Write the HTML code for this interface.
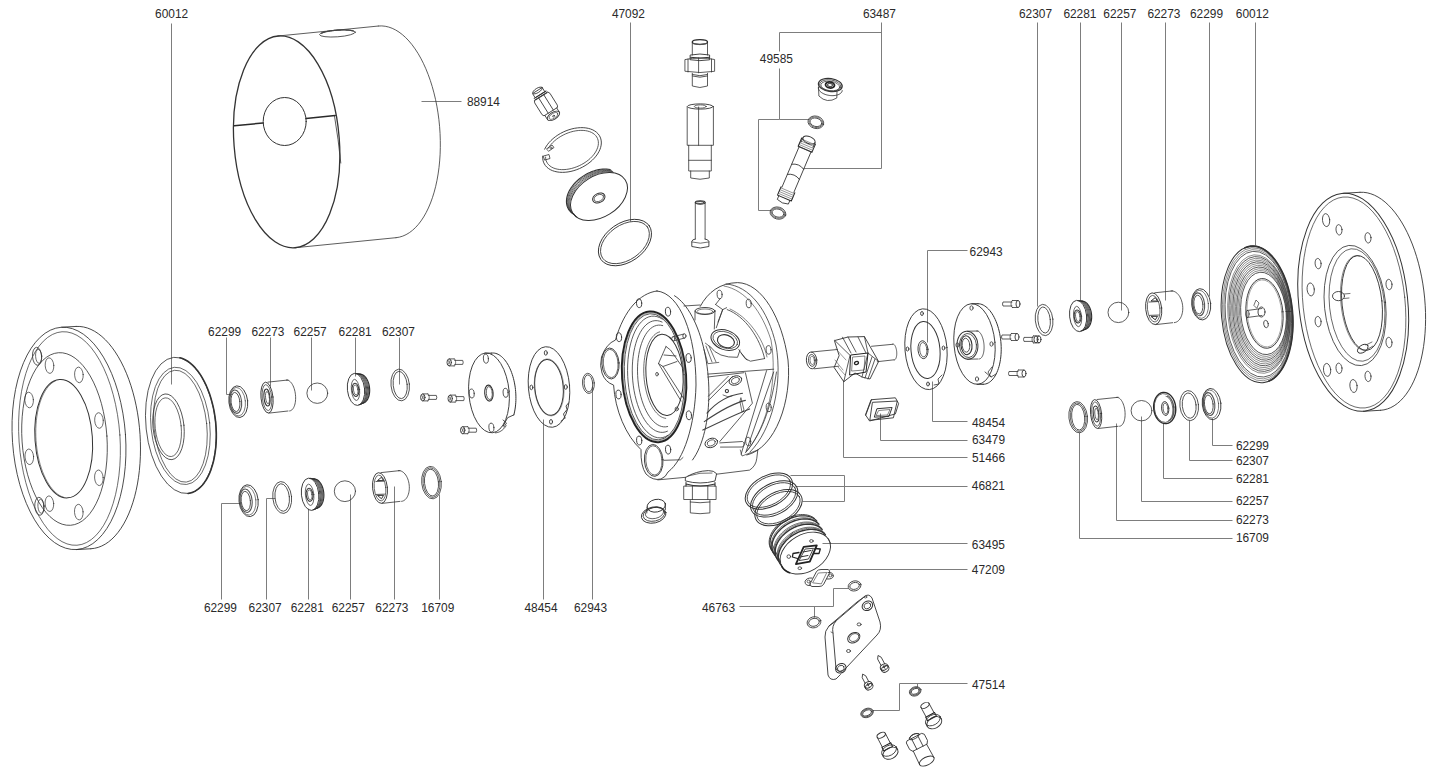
<!DOCTYPE html>
<html><head><meta charset="utf-8"><style>
html,body{margin:0;padding:0;background:#fff;width:1437px;height:776px;overflow:hidden}
svg{display:block}
text{font-family:"Liberation Sans",sans-serif}
</style></head><body>
<svg width="1437" height="776" viewBox="0 0 1437 776" stroke-linecap="round" stroke-linejoin="round">
<rect width="1437" height="776" fill="#fff"/>
<text x="155.1" y="18.3" font-size="11.9" fill="#2a2a2a">60012</text>
<text x="611.9" y="18.1" font-size="11.9" fill="#2a2a2a">47092</text>
<text x="862.9" y="18.1" font-size="11.9" fill="#2a2a2a">63487</text>
<text x="1019" y="17.8" font-size="11.9" fill="#2a2a2a">62307</text>
<text x="1063.4" y="17.8" font-size="11.9" fill="#2a2a2a">62281</text>
<text x="1103.3" y="17.8" font-size="11.9" fill="#2a2a2a">62257</text>
<text x="1147.4" y="17.8" font-size="11.9" fill="#2a2a2a">62273</text>
<text x="1190" y="17.8" font-size="11.9" fill="#2a2a2a">62299</text>
<text x="1235.8" y="17.8" font-size="11.9" fill="#2a2a2a">60012</text>
<text x="759.8" y="63.4" font-size="11.9" fill="#2a2a2a">49585</text>
<text x="466.9" y="105.9" font-size="11.9" fill="#2a2a2a">88914</text>
<text x="208.1" y="335.9" font-size="11.9" fill="#2a2a2a">62299</text>
<text x="251.4" y="335.9" font-size="11.9" fill="#2a2a2a">62273</text>
<text x="293.6" y="335.9" font-size="11.9" fill="#2a2a2a">62257</text>
<text x="338.6" y="335.9" font-size="11.9" fill="#2a2a2a">62281</text>
<text x="381.9" y="335.9" font-size="11.9" fill="#2a2a2a">62307</text>
<text x="203.9" y="611.9" font-size="11.9" fill="#2a2a2a">62299</text>
<text x="248.6" y="611.9" font-size="11.9" fill="#2a2a2a">62307</text>
<text x="290.7" y="611.9" font-size="11.9" fill="#2a2a2a">62281</text>
<text x="331.7" y="611.9" font-size="11.9" fill="#2a2a2a">62257</text>
<text x="375.3" y="611.9" font-size="11.9" fill="#2a2a2a">62273</text>
<text x="421.2" y="611.9" font-size="11.9" fill="#2a2a2a">16709</text>
<text x="524.5" y="611.9" font-size="11.9" fill="#2a2a2a">48454</text>
<text x="574" y="611.9" font-size="11.9" fill="#2a2a2a">62943</text>
<text x="702" y="612.2" font-size="11.9" fill="#2a2a2a">46763</text>
<text x="969.6" y="256.1" font-size="11.9" fill="#2a2a2a">62943</text>
<text x="972" y="426.5" font-size="11.9" fill="#2a2a2a">48454</text>
<text x="972" y="444.3" font-size="11.9" fill="#2a2a2a">63479</text>
<text x="972" y="461.5" font-size="11.9" fill="#2a2a2a">51466</text>
<text x="971.8" y="490.1" font-size="11.9" fill="#2a2a2a">46821</text>
<text x="971.8" y="548.7" font-size="11.9" fill="#2a2a2a">63495</text>
<text x="971.8" y="573.5" font-size="11.9" fill="#2a2a2a">47209</text>
<text x="972" y="688.9" font-size="11.9" fill="#2a2a2a">47514</text>
<text x="1235.9" y="449.5" font-size="11.9" fill="#2a2a2a">62299</text>
<text x="1235.9" y="464.8" font-size="11.9" fill="#2a2a2a">62307</text>
<text x="1235.9" y="482.8" font-size="11.9" fill="#2a2a2a">62281</text>
<text x="1235.9" y="505.3" font-size="11.9" fill="#2a2a2a">62257</text>
<text x="1235.9" y="524.4" font-size="11.9" fill="#2a2a2a">62273</text>
<text x="1235.9" y="541.5" font-size="11.9" fill="#2a2a2a">16709</text>
<path d="M171.5 23.5 L171.5 384.5" fill="none" stroke="#7d7d7d" stroke-width="1.0" stroke-linecap="butt"/>
<path d="M630.5 22.5 L630.5 221.5" fill="none" stroke="#7d7d7d" stroke-width="1.0" stroke-linecap="butt"/>
<path d="M881.5 22.5 L881.5 168.5 L803.5 168.5" fill="none" stroke="#7d7d7d" stroke-width="1.0" stroke-linecap="butt"/>
<path d="M779.5 32.5 L881.5 32.5" fill="none" stroke="#7d7d7d" stroke-width="1.0" stroke-linecap="butt"/>
<path d="M779.5 32.5 L779.5 51.5" fill="none" stroke="#7d7d7d" stroke-width="1.0" stroke-linecap="butt"/>
<path d="M779.5 68.5 L779.5 119.5 L758.5 119.5 L758.5 210.5 L771.5 210.5" fill="none" stroke="#7d7d7d" stroke-width="1.0" stroke-linecap="butt"/>
<path d="M779.5 119.5 L808.5 119.5" fill="none" stroke="#7d7d7d" stroke-width="1.0" stroke-linecap="butt"/>
<path d="M421.5 101.5 L461.5 101.5" fill="none" stroke="#7d7d7d" stroke-width="1.0" stroke-linecap="butt"/>
<path d="M226.5 337.5 L226.5 394.5 L232.5 394.5" fill="none" stroke="#7d7d7d" stroke-width="1.0" stroke-linecap="butt"/>
<path d="M270.5 337.5 L270.5 386.5" fill="none" stroke="#7d7d7d" stroke-width="1.0" stroke-linecap="butt"/>
<path d="M311.5 337.5 L311.5 390.5" fill="none" stroke="#7d7d7d" stroke-width="1.0" stroke-linecap="butt"/>
<path d="M355.5 337.5 L355.5 376.5" fill="none" stroke="#7d7d7d" stroke-width="1.0" stroke-linecap="butt"/>
<path d="M399.5 337.5 L399.5 384.5" fill="none" stroke="#7d7d7d" stroke-width="1.0" stroke-linecap="butt"/>
<path d="M221.5 599.5 L221.5 503.5 L240.5 503.5" fill="none" stroke="#7d7d7d" stroke-width="1.0" stroke-linecap="butt"/>
<path d="M266.5 599.5 L266.5 498.5 L275.5 498.5" fill="none" stroke="#7d7d7d" stroke-width="1.0" stroke-linecap="butt"/>
<path d="M308.5 599.5 L308.5 508.5" fill="none" stroke="#7d7d7d" stroke-width="1.0" stroke-linecap="butt"/>
<path d="M350.5 599.5 L350.5 494.5" fill="none" stroke="#7d7d7d" stroke-width="1.0" stroke-linecap="butt"/>
<path d="M394.5 599.5 L394.5 486.5" fill="none" stroke="#7d7d7d" stroke-width="1.0" stroke-linecap="butt"/>
<path d="M439.5 599.5 L439.5 494.5" fill="none" stroke="#7d7d7d" stroke-width="1.0" stroke-linecap="butt"/>
<path d="M543.5 599.5 L543.5 419.5" fill="none" stroke="#7d7d7d" stroke-width="1.0" stroke-linecap="butt"/>
<path d="M592.5 599.5 L592.5 386.5" fill="none" stroke="#7d7d7d" stroke-width="1.0" stroke-linecap="butt"/>
<path d="M739.5 606.5 L833.5 606.5 L833.5 588.5 L848.5 588.5" fill="none" stroke="#7d7d7d" stroke-width="1.0" stroke-linecap="butt"/>
<path d="M814.5 606.5 L814.5 617.5" fill="none" stroke="#7d7d7d" stroke-width="1.0" stroke-linecap="butt"/>
<path d="M927.5 342.5 L927.5 250.5 L967.5 250.5" fill="none" stroke="#7d7d7d" stroke-width="1.0" stroke-linecap="butt"/>
<path d="M932.5 381.5 L932.5 421.5 L967.5 421.5" fill="none" stroke="#7d7d7d" stroke-width="1.0" stroke-linecap="butt"/>
<path d="M880.5 413.5 L880.5 440.5 L967.5 440.5" fill="none" stroke="#7d7d7d" stroke-width="1.0" stroke-linecap="butt"/>
<path d="M843.5 380.5 L843.5 457.5 L967.5 457.5" fill="none" stroke="#7d7d7d" stroke-width="1.0" stroke-linecap="butt"/>
<path d="M790.5 475.5 L844.5 475.5 L844.5 501.5 L802.5 501.5" fill="none" stroke="#7d7d7d" stroke-width="1.0" stroke-linecap="butt"/>
<path d="M795.5 486.5 L967.5 486.5" fill="none" stroke="#7d7d7d" stroke-width="1.0" stroke-linecap="butt"/>
<path d="M822.5 543.5 L967.5 543.5" fill="none" stroke="#7d7d7d" stroke-width="1.0" stroke-linecap="butt"/>
<path d="M829.5 569.5 L967.5 569.5" fill="none" stroke="#7d7d7d" stroke-width="1.0" stroke-linecap="butt"/>
<path d="M873.5 710.5 L899.5 710.5 L899.5 683.5 L967.5 683.5" fill="none" stroke="#7d7d7d" stroke-width="1.0" stroke-linecap="butt"/>
<path d="M917.5 683.5 L917.5 687.5" fill="none" stroke="#7d7d7d" stroke-width="1.0" stroke-linecap="butt"/>
<path d="M1037.5 22.5 L1037.5 306.5" fill="none" stroke="#7d7d7d" stroke-width="1.0" stroke-linecap="butt"/>
<path d="M1080.5 22.5 L1080.5 300.5" fill="none" stroke="#7d7d7d" stroke-width="1.0" stroke-linecap="butt"/>
<path d="M1121.5 22.5 L1121.5 310.5" fill="none" stroke="#7d7d7d" stroke-width="1.0" stroke-linecap="butt"/>
<path d="M1165.5 22.5 L1165.5 300.5" fill="none" stroke="#7d7d7d" stroke-width="1.0" stroke-linecap="butt"/>
<path d="M1209.5 22.5 L1209.5 296.5" fill="none" stroke="#7d7d7d" stroke-width="1.0" stroke-linecap="butt"/>
<path d="M1255.5 22.5 L1255.5 245.5" fill="none" stroke="#7d7d7d" stroke-width="1.0" stroke-linecap="butt"/>
<path d="M1212.5 418.5 L1212.5 445.5 L1232.5 445.5" fill="none" stroke="#7d7d7d" stroke-width="1.0" stroke-linecap="butt"/>
<path d="M1189.5 420.5 L1189.5 460.5 L1232.5 460.5" fill="none" stroke="#7d7d7d" stroke-width="1.0" stroke-linecap="butt"/>
<path d="M1163.5 423.5 L1163.5 478.5 L1232.5 478.5" fill="none" stroke="#7d7d7d" stroke-width="1.0" stroke-linecap="butt"/>
<path d="M1141.5 416.5 L1141.5 501.5 L1232.5 501.5" fill="none" stroke="#7d7d7d" stroke-width="1.0" stroke-linecap="butt"/>
<path d="M1116.5 423.5 L1116.5 520.5 L1232.5 520.5" fill="none" stroke="#7d7d7d" stroke-width="1.0" stroke-linecap="butt"/>
<path d="M1079.5 432.5 L1079.5 538.5 L1232.5 538.5" fill="none" stroke="#7d7d7d" stroke-width="1.0" stroke-linecap="butt"/>
<ellipse cx="286.65" cy="141.86" rx="52.7" ry="106.2" transform="rotate(-4.5 286.65 141.86)" fill="none" stroke="#333" stroke-width="1.3"/>
<path d="M378.28 26.04 L381.73 25.92 L385.2 26.26 L388.68 27.05 L392.16 28.29 L395.61 29.97 L399.03 32.09 L402.39 34.64 L405.69 37.6 L408.91 40.97 L412.04 44.73 L415.06 48.86 L417.97 53.34 L420.74 58.16 L423.36 63.3 L425.83 68.73 L428.14 74.43 L430.27 80.37 L432.21 86.54 L433.96 92.9 L435.52 99.43 L436.86 106.1 L437.99 112.87 L438.91 119.73 L439.6 126.64 L440.07 133.57 L440.31 140.5 L440.32 147.39 L440.11 154.21 L439.67 160.93 L439 167.54 L438.11 173.98 L437.01 180.25 L435.69 186.31 L434.16 192.14 L432.43 197.71 L430.51 203 L428.4 207.98 L426.12 212.64 L423.66 216.95 L421.06 220.9 L418.3 224.46 L415.42 227.63 L412.41 230.39 L409.29 232.73 L406.08 234.63 L402.79 236.1 L399.43 237.12 L396.02 237.68" fill="none" stroke="#333" stroke-width="0.8"/>
<path d="M277.78 36.04 L378.28 26.04" fill="none" stroke="#333" stroke-width="0.8"/>
<path d="M295.52 247.68 L396.02 237.68" fill="none" stroke="#333" stroke-width="0.8"/>
<ellipse cx="284.7" cy="121.5" rx="21.5" ry="24" fill="none" stroke="#333" stroke-width="1.0"/>
<path d="M234.2 125.7 L263 123 M306 118.5 L335.2 115.5" fill="none" stroke="#2a2a2a" stroke-width="1.5"/>
<ellipse cx="337.5" cy="33.4" rx="18" ry="3.4" transform="rotate(-4 337.5 33.4)" fill="none" stroke="#333" stroke-width="0.8"/>
<path d="M321.49 33.29 L321.86 33.09 L322.29 32.9 L322.78 32.7 L323.32 32.51 L323.92 32.32 L324.56 32.13 L325.26 31.95 L326 31.77 L326.78 31.6 L327.6 31.43 L328.46 31.27 L329.35 31.11 L330.28 30.97 L331.23 30.83 L332.2 30.7 L333.19 30.58 L334.2 30.47 L335.23 30.37 L336.26 30.29 L337.29 30.21 L338.33 30.14 L339.36 30.09 L340.38 30.04 L341.4 30.01 L342.4 29.99 L343.38 29.98 L344.34 29.98 L345.28 30 L346.18 30.03 L347.06 30.07 L347.89 30.12 L348.69 30.18 L349.45 30.26 L350.16 30.34 L350.83 30.44 L351.44 30.54 L352.01 30.66 L352.52 30.78 L352.97 30.92 L353.36 31.06" fill="none" stroke="#444" stroke-width="1.2"/>
<path d="M334.5 116 Q338.5 140 340.8 163" fill="none" stroke="#333" stroke-width="0.8"/>
<ellipse cx="69" cy="438.4" rx="56.6" ry="111.4" transform="rotate(-4 69 438.4)" fill="none" stroke="#333" stroke-width="0.85"/>
<path d="M76.15 326.44 L79.86 326.48 L83.59 326.99 L87.32 327.97 L91.03 329.43 L94.71 331.34 L98.34 333.71 L101.91 336.53 L105.39 339.78 L108.79 343.45 L112.08 347.52 L115.24 351.97 L118.27 356.8 L121.15 361.97 L123.87 367.46 L126.41 373.25 L128.77 379.32 L130.94 385.64 L132.9 392.18 L134.66 398.92 L136.19 405.82 L137.5 412.86 L138.58 420 L139.42 427.22 L140.02 434.48 L140.38 441.76 L140.49 449.02 L140.37 456.23 L139.99 463.36 L139.38 470.38 L138.53 477.26 L137.44 483.97 L136.12 490.48 L134.58 496.76 L132.81 502.79 L130.84 508.55 L128.66 513.99 L126.29 519.11 L123.74 523.89 L121.01 528.29 L118.12 532.3 L115.09 535.91 L111.92 539.1 L108.63 541.85 L105.23 544.16 L101.73 546.01 L98.16 547.4 L94.53 548.31 L90.85 548.76" fill="none" stroke="#333" stroke-width="0.9"/>
<path d="M61.65 327.24 L76.15 326.44" fill="none" stroke="#333" stroke-width="0.9"/>
<path d="M76.35 549.56 L90.85 548.76" fill="none" stroke="#333" stroke-width="0.9"/>
<ellipse cx="69.5" cy="438.5" rx="50.5" ry="107" transform="rotate(-4 69.5 438.5)" fill="none" stroke="#333" stroke-width="0.7"/>
<ellipse cx="64.5" cy="439" rx="42.5" ry="86.5" transform="rotate(-4 64.5 439)" fill="none" stroke="#333" stroke-width="0.8"/>
<ellipse cx="63.7" cy="438.7" rx="28.7" ry="59.3" transform="rotate(-4 63.7 438.7)" fill="none" stroke="#333" stroke-width="1.0"/>
<path d="M63.8 497.3 L61.79 496.58 L59.79 495.58 L57.81 494.3 L55.87 492.75 L53.97 490.93 L52.12 488.86 L50.33 486.55 L48.62 484 L46.98 481.23 L45.43 478.26 L43.97 475.09 L42.61 471.75 L41.36 468.24 L40.23 464.59 L39.21 460.81 L38.32 456.93 L37.56 452.96 L36.92 448.92 L36.43 444.82 L36.07 440.7 L35.85 436.57 L35.77 432.45 L35.84 428.36 L36.04 424.32 L36.38 420.35 L36.86 416.47 L37.48 412.7 L38.23 409.05 L39.11 405.55 L40.11 402.21 L41.23 399.05 L42.47 396.08 L43.81 393.32 L45.26 390.78 L46.8 388.47 L48.43 386.41 L50.14 384.6 L51.92 383.06 L53.76 381.79 L55.65 380.79" fill="none" stroke="#333" stroke-width="0.6"/>
<ellipse cx="49.5" cy="365.6" rx="4.3" ry="7.8" transform="rotate(-4 49.5 365.6)" fill="none" stroke="#333" stroke-width="0.7"/>
<ellipse cx="78.9" cy="374.9" rx="4.3" ry="7.8" transform="rotate(-4 78.9 374.9)" fill="none" stroke="#333" stroke-width="0.7"/>
<ellipse cx="29.1" cy="400" rx="4.3" ry="7.8" transform="rotate(-4 29.1 400)" fill="none" stroke="#333" stroke-width="0.7"/>
<ellipse cx="99" cy="420.5" rx="4.3" ry="7.8" transform="rotate(-4 99 420.5)" fill="none" stroke="#333" stroke-width="0.7"/>
<ellipse cx="29.3" cy="456.8" rx="4.3" ry="7.8" transform="rotate(-4 29.3 456.8)" fill="none" stroke="#333" stroke-width="0.7"/>
<ellipse cx="98.9" cy="477.8" rx="4.3" ry="7.8" transform="rotate(-4 98.9 477.8)" fill="none" stroke="#333" stroke-width="0.7"/>
<ellipse cx="49.4" cy="503.7" rx="4.3" ry="7.8" transform="rotate(-4 49.4 503.7)" fill="none" stroke="#333" stroke-width="0.7"/>
<ellipse cx="78.8" cy="512.1" rx="4.3" ry="7.8" transform="rotate(-4 78.8 512.1)" fill="none" stroke="#333" stroke-width="0.7"/>
<ellipse cx="37.1" cy="356.3" rx="4.6" ry="9" transform="rotate(-4 37.1 356.3)" fill="none" stroke="#333" stroke-width="0.8"/>
<ellipse cx="38.6" cy="356.3" rx="3" ry="7" transform="rotate(-4 38.6 356.3)" fill="none" stroke="#333" stroke-width="0.7"/>
<ellipse cx="39.4" cy="506.3" rx="4.6" ry="9" transform="rotate(-4 39.4 506.3)" fill="none" stroke="#333" stroke-width="0.8"/>
<ellipse cx="40.9" cy="506.3" rx="3" ry="7" transform="rotate(-4 40.9 506.3)" fill="none" stroke="#333" stroke-width="0.7"/>
<ellipse cx="180.9" cy="425.4" rx="34.9" ry="68.4" transform="rotate(-6 180.9 425.4)" fill="none" stroke="#333" stroke-width="0.8"/>
<path d="M179.89 357.77 L182.51 358.57 L185.13 359.73 L187.73 361.26 L190.29 363.13 L192.79 365.35 L195.23 367.9 L197.6 370.77 L199.87 373.93 L202.03 377.38 L204.08 381.09 L206.01 385.05 L207.79 389.23 L209.43 393.61 L210.91 398.16 L212.22 402.86 L213.36 407.69 L214.33 412.61 L215.11 417.61 L215.7 422.64 L216.1 427.69 L216.31 432.73 L216.32 437.73 L216.14 442.66 L215.76 447.5 L215.19 452.21 L214.43 456.78 L213.49 461.18 L212.37 465.37 L211.08 469.35 L209.62 473.09 L208 476.56 L206.24 479.76 L204.33 482.65 L202.3 485.23 L200.14 487.48 L197.89 489.39 L195.53 490.94 L193.1 492.14 L190.6 492.97 L188.05 493.43" fill="none" stroke="#333" stroke-width="1.6"/>
<ellipse cx="180.4" cy="425.9" rx="29.4" ry="58.9" transform="rotate(-6 180.4 425.9)" fill="none" stroke="#333" stroke-width="0.7"/>
<ellipse cx="180.4" cy="426.2" rx="26.4" ry="56.2" transform="rotate(-6 180.4 426.2)" fill="none" stroke="#333" stroke-width="0.7"/>
<ellipse cx="168.5" cy="426.8" rx="15.5" ry="33" transform="rotate(-6 168.5 426.8)" fill="none" stroke="#333" stroke-width="0.8"/>
<ellipse cx="168.2" cy="427.2" rx="13" ry="29.5" transform="rotate(-6 168.2 427.2)" fill="none" stroke="#333" stroke-width="0.7"/>
<ellipse cx="238.3" cy="401.7" rx="9.4" ry="15.9" transform="rotate(-6 238.3 401.7)" fill="none" stroke="#333" stroke-width="0.9"/>
<ellipse cx="237.5" cy="401.7" rx="7.9" ry="14.3" transform="rotate(-6 237.5 401.7)" fill="none" stroke="#333" stroke-width="0.6"/>
<ellipse cx="235.8" cy="401.7" rx="5.8" ry="11.7" transform="rotate(-6 235.8 401.7)" fill="none" stroke="#555" stroke-width="1.1"/>
<ellipse cx="235.5" cy="402" rx="4.4" ry="9.6" transform="rotate(-6 235.5 402)" fill="none" stroke="#333" stroke-width="0.8"/>
<path d="M286.38 380.08 L287.17 380.09 L287.97 380.26 L288.76 380.6 L289.55 381.1 L290.33 381.76 L291.07 382.57 L291.79 383.52 L292.46 384.6 L293.08 385.8 L293.65 387.11 L294.16 388.51 L294.59 389.99 L294.96 391.53 L295.25 393.11 L295.46 394.72 L295.59 396.33 L295.63 397.94 L295.59 399.52 L295.47 401.05 L295.27 402.53 L294.99 403.93 L294.63 405.23 L294.2 406.43 L293.7 407.51 L293.13 408.46 L292.51 409.26 L291.85 409.92 L291.14 410.42 L290.39 410.75 L289.62 410.92" fill="none" stroke="#333" stroke-width="0.8"/>
<path d="M268 382.1 L288 380" fill="none" stroke="#333" stroke-width="0.8"/>
<path d="M269 413.1 L288 411" fill="none" stroke="#333" stroke-width="0.8"/>
<ellipse cx="267" cy="397.6" rx="6" ry="15.5" transform="rotate(-6 267 397.6)" fill="none" stroke="#333" stroke-width="0.9"/>
<ellipse cx="267" cy="397.6" rx="4.68" ry="13.02" transform="rotate(-6 267 397.6)" fill="none" stroke="#333" stroke-width="0.7"/>
<ellipse cx="267" cy="397.6" rx="3" ry="8.53" transform="rotate(-6 267 397.6)" fill="none" stroke="#333" stroke-width="1.0"/>
<ellipse cx="267.5" cy="397.6" rx="1.92" ry="6.2" transform="rotate(-6 267.5 397.6)" fill="none" stroke="#444" stroke-width="0.8"/>
<ellipse cx="317.3" cy="393.2" rx="10.4" ry="10.19" fill="none" stroke="#333" stroke-width="0.8"/>
<ellipse cx="356" cy="389.4" rx="8.6" ry="16.1" transform="rotate(-6 356 389.4)" fill="none" stroke="#333" stroke-width="0.9"/>
<path d="M355.65 373.51 L356.31 373.53 L356.98 373.65 L357.65 373.85 L358.31 374.15 L358.97 374.53 L359.62 375 L360.24 375.55 L360.86 376.19 L361.44 376.9 L362.01 377.69 L362.54 378.54 L363.04 379.46 L363.5 380.43 L363.93 381.46 L364.31 382.53 L364.65 383.64 L364.95 384.79 L365.2 385.96 L365.4 387.15 L365.55 388.35 L365.65 389.56 L365.7 390.77 L365.7 391.96 L365.65 393.14 L365.55 394.3 L365.4 395.43 L365.19 396.52 L364.94 397.57 L364.64 398.57 L364.3 399.52 L363.91 400.4 L363.49 401.22 L363.02 401.97 L362.52 402.64 L361.99 403.24 L361.42 403.75 L360.84 404.18 L360.22 404.52 L359.59 404.77 L358.95 404.92" fill="none" stroke="#2a2a2a" stroke-width="0.9"/>
<path d="M356.68 373.66 L357.34 373.68 L358.01 373.79 L358.68 373.99 L359.34 374.28 L360 374.65 L360.64 375.11 L361.27 375.66 L361.88 376.28 L362.47 376.98 L363.03 377.75 L363.56 378.58 L364.06 379.48 L364.52 380.43 L364.94 381.44 L365.32 382.49 L365.66 383.58 L365.96 384.7 L366.2 385.85 L366.4 387.02 L366.55 388.2 L366.65 389.39 L366.7 390.57 L366.7 391.74 L366.64 392.9 L366.54 394.04 L366.38 395.15 L366.18 396.22 L365.92 397.25 L365.62 398.23 L365.28 399.16 L364.89 400.03 L364.46 400.84 L364 401.57 L363.49 402.23 L362.96 402.82 L362.4 403.32 L361.81 403.74 L361.19 404.07 L360.56 404.32 L359.92 404.47" fill="none" stroke="#2a2a2a" stroke-width="0.9"/>
<path d="M357.71 373.81 L358.37 373.83 L359.04 373.93 L359.71 374.13 L360.37 374.41 L361.03 374.77 L361.67 375.23 L362.3 375.76 L362.91 376.37 L363.49 377.05 L364.05 377.8 L364.58 378.62 L365.07 379.5 L365.53 380.44 L365.95 381.42 L366.33 382.45 L366.67 383.52 L366.96 384.62 L367.21 385.75 L367.41 386.89 L367.55 388.05 L367.65 389.21 L367.7 390.37 L367.69 391.53 L367.63 392.66 L367.53 393.78 L367.37 394.87 L367.16 395.92 L366.9 396.93 L366.6 397.89 L366.26 398.8 L365.87 399.66 L365.44 400.45 L364.97 401.17 L364.47 401.82 L363.93 402.39 L363.37 402.89 L362.78 403.3 L362.16 403.63 L361.53 403.87 L360.89 404.03" fill="none" stroke="#2a2a2a" stroke-width="0.9"/>
<path d="M358.74 373.96 L359.41 373.97 L360.07 374.08 L360.74 374.26 L361.4 374.54 L362.06 374.9 L362.7 375.34 L363.32 375.86 L363.93 376.45 L364.51 377.12 L365.07 377.86 L365.6 378.66 L366.09 379.52 L366.55 380.44 L366.97 381.41 L367.35 382.42 L367.68 383.46 L367.97 384.54 L368.21 385.64 L368.41 386.77 L368.55 387.9 L368.65 389.04 L368.69 390.18 L368.68 391.31 L368.62 392.42 L368.51 393.52 L368.35 394.58 L368.14 395.62 L367.89 396.61 L367.58 397.55 L367.23 398.45 L366.84 399.28 L366.41 400.06 L365.94 400.77 L365.44 401.41 L364.9 401.97 L364.34 402.46 L363.75 402.86 L363.13 403.19 L362.5 403.43 L361.86 403.58" fill="none" stroke="#2a2a2a" stroke-width="0.9"/>
<path d="M359.77 374.11 L360.44 374.12 L361.1 374.22 L361.77 374.4 L362.43 374.67 L363.08 375.02 L363.73 375.45 L364.35 375.96 L364.96 376.54 L365.54 377.2 L366.09 377.92 L366.62 378.7 L367.11 379.55 L367.57 380.44 L367.98 381.39 L368.36 382.38 L368.69 383.4 L368.98 384.46 L369.22 385.54 L369.41 386.64 L369.55 387.75 L369.64 388.87 L369.69 389.98 L369.68 391.09 L369.61 392.18 L369.5 393.26 L369.34 394.3 L369.13 395.31 L368.87 396.29 L368.56 397.21 L368.21 398.09 L367.82 398.91 L367.39 399.67 L366.92 400.37 L366.41 400.99 L365.87 401.55 L365.31 402.03 L364.72 402.43 L364.1 402.74 L363.47 402.98 L362.82 403.13" fill="none" stroke="#2a2a2a" stroke-width="1.1"/>
<ellipse cx="355.5" cy="389.9" rx="4.1" ry="10.6" transform="rotate(-6 355.5 389.9)" fill="none" stroke="#333" stroke-width="0.7"/>
<ellipse cx="355.5" cy="389.9" rx="3.4" ry="6.6" transform="rotate(-6 355.5 389.9)" fill="none" stroke="#333" stroke-width="1.0"/>
<ellipse cx="355.7" cy="389.9" rx="2.2" ry="5" transform="rotate(-6 355.7 389.9)" fill="none" stroke="#333" stroke-width="0.7"/>
<ellipse cx="400.2" cy="385" rx="9.2" ry="15.9" transform="rotate(-6 400.2 385)" fill="none" stroke="#333" stroke-width="0.8"/>
<ellipse cx="400.2" cy="385" rx="7" ry="13.7" transform="rotate(-6 400.2 385)" fill="none" stroke="#333" stroke-width="0.8"/>
<ellipse cx="248.6" cy="500.7" rx="9.6" ry="16" transform="rotate(-6 248.6 500.7)" fill="none" stroke="#333" stroke-width="0.9"/>
<ellipse cx="247.8" cy="500.7" rx="8.1" ry="14.4" transform="rotate(-6 247.8 500.7)" fill="none" stroke="#333" stroke-width="0.6"/>
<ellipse cx="246.1" cy="500.7" rx="6" ry="11.8" transform="rotate(-6 246.1 500.7)" fill="none" stroke="#555" stroke-width="1.1"/>
<ellipse cx="245.8" cy="501" rx="4.6" ry="9.7" transform="rotate(-6 245.8 501)" fill="none" stroke="#333" stroke-width="0.8"/>
<ellipse cx="282.2" cy="497.5" rx="9.4" ry="16" transform="rotate(-6 282.2 497.5)" fill="none" stroke="#333" stroke-width="0.8"/>
<ellipse cx="282.2" cy="497.5" rx="7.2" ry="13.8" transform="rotate(-6 282.2 497.5)" fill="none" stroke="#333" stroke-width="0.8"/>
<ellipse cx="310.1" cy="494.3" rx="8.7" ry="16.2" transform="rotate(-6 310.1 494.3)" fill="none" stroke="#333" stroke-width="0.9"/>
<path d="M309.74 478.31 L310.41 478.33 L311.09 478.45 L311.76 478.65 L312.44 478.95 L313.1 479.33 L313.75 479.81 L314.39 480.37 L315.01 481 L315.6 481.72 L316.17 482.51 L316.71 483.37 L317.21 484.29 L317.68 485.27 L318.11 486.3 L318.5 487.38 L318.84 488.5 L319.14 489.65 L319.4 490.83 L319.6 492.03 L319.75 493.24 L319.85 494.46 L319.9 495.67 L319.9 496.88 L319.85 498.06 L319.74 499.23 L319.59 500.37 L319.38 501.47 L319.13 502.52 L318.83 503.53 L318.48 504.48 L318.09 505.37 L317.66 506.2 L317.18 506.95 L316.68 507.63 L316.14 508.23 L315.57 508.74 L314.97 509.17 L314.35 509.51 L313.72 509.76 L313.06 509.92" fill="none" stroke="#2a2a2a" stroke-width="0.9"/>
<path d="M310.77 478.46 L311.44 478.48 L312.12 478.59 L312.79 478.79 L313.47 479.08 L314.13 479.46 L314.78 479.92 L315.42 480.47 L316.03 481.09 L316.63 481.79 L317.19 482.57 L317.73 483.41 L318.23 484.31 L318.7 485.27 L319.12 486.29 L319.51 487.34 L319.85 488.44 L320.15 489.57 L320.4 490.73 L320.6 491.9 L320.75 493.09 L320.85 494.28 L320.9 495.47 L320.9 496.66 L320.84 497.82 L320.73 498.97 L320.58 500.08 L320.37 501.16 L320.11 502.2 L319.81 503.19 L319.46 504.12 L319.06 505 L318.63 505.81 L318.16 506.55 L317.65 507.21 L317.11 507.8 L316.54 508.31 L315.94 508.73 L315.32 509.07 L314.68 509.32 L314.03 509.47" fill="none" stroke="#2a2a2a" stroke-width="0.9"/>
<path d="M311.8 478.61 L312.48 478.63 L313.15 478.73 L313.83 478.93 L314.5 479.21 L315.16 479.58 L315.81 480.03 L316.44 480.57 L317.06 481.18 L317.65 481.87 L318.21 482.63 L318.75 483.45 L319.25 484.34 L319.71 485.28 L320.14 486.27 L320.52 487.31 L320.86 488.38 L321.16 489.49 L321.41 490.62 L321.6 491.78 L321.75 492.94 L321.85 494.11 L321.9 495.28 L321.89 496.44 L321.83 497.58 L321.72 498.71 L321.56 499.8 L321.35 500.86 L321.09 501.88 L320.79 502.85 L320.43 503.77 L320.04 504.62 L319.61 505.42 L319.13 506.15 L318.62 506.8 L318.08 507.38 L317.51 507.88 L316.91 508.3 L316.29 508.63 L315.65 508.87 L315 509.03" fill="none" stroke="#2a2a2a" stroke-width="0.9"/>
<path d="M312.83 478.76 L313.51 478.77 L314.18 478.88 L314.86 479.07 L315.53 479.34 L316.19 479.7 L316.84 480.15 L317.47 480.67 L318.08 481.27 L318.67 481.94 L319.23 482.68 L319.77 483.49 L320.27 484.36 L320.73 485.28 L321.15 486.25 L321.53 487.27 L321.87 488.32 L322.17 489.41 L322.41 490.52 L322.61 491.65 L322.75 492.79 L322.85 493.94 L322.89 495.08 L322.88 496.22 L322.82 497.34 L322.71 498.45 L322.55 499.52 L322.33 500.56 L322.07 501.56 L321.77 502.51 L321.41 503.41 L321.02 504.25 L320.58 505.03 L320.1 505.75 L319.59 506.39 L319.05 506.96 L318.48 507.45 L317.88 507.86 L317.26 508.18 L316.62 508.42 L315.97 508.58" fill="none" stroke="#2a2a2a" stroke-width="0.9"/>
<path d="M313.87 478.91 L314.54 478.92 L315.21 479.02 L315.89 479.2 L316.55 479.47 L317.22 479.82 L317.86 480.26 L318.5 480.77 L319.11 481.36 L319.7 482.01 L320.26 482.74 L320.79 483.53 L321.28 484.38 L321.75 485.28 L322.17 486.24 L322.55 487.23 L322.88 488.26 L323.17 489.33 L323.42 490.41 L323.61 491.52 L323.75 492.64 L323.84 493.76 L323.89 494.89 L323.87 496 L323.81 497.1 L323.7 498.18 L323.53 499.24 L323.32 500.25 L323.06 501.23 L322.75 502.17 L322.39 503.05 L321.99 503.88 L321.56 504.65 L321.08 505.35 L320.57 505.98 L320.02 506.54 L319.45 507.02 L318.85 507.42 L318.23 507.74 L317.59 507.98 L316.94 508.13" fill="none" stroke="#2a2a2a" stroke-width="1.1"/>
<ellipse cx="309.6" cy="494.8" rx="4.2" ry="10.7" transform="rotate(-6 309.6 494.8)" fill="none" stroke="#333" stroke-width="0.7"/>
<ellipse cx="309.6" cy="494.8" rx="3.4" ry="6.6" transform="rotate(-6 309.6 494.8)" fill="none" stroke="#333" stroke-width="1.0"/>
<ellipse cx="309.8" cy="494.8" rx="2.2" ry="5" transform="rotate(-6 309.8 494.8)" fill="none" stroke="#333" stroke-width="0.7"/>
<ellipse cx="344.9" cy="491.2" rx="10.6" ry="10.39" fill="none" stroke="#333" stroke-width="0.8"/>
<path d="M398.39 470.68 L399.36 470.67 L400.34 470.82 L401.31 471.14 L402.27 471.62 L403.21 472.25 L404.1 473.04 L404.96 473.97 L405.76 475.03 L406.5 476.22 L407.16 477.5 L407.75 478.89 L408.25 480.35 L408.66 481.87 L408.98 483.44 L409.2 485.03 L409.32 486.64 L409.33 488.24 L409.25 489.81 L409.06 491.35 L408.77 492.82 L408.39 494.22 L407.91 495.53 L407.35 496.73 L406.71 497.82 L405.99 498.78 L405.21 499.6 L404.37 500.27 L403.49 500.78 L402.56 501.13 L401.61 501.32" fill="none" stroke="#333" stroke-width="0.8"/>
<path d="M381 472.6 L400 470.6" fill="none" stroke="#333" stroke-width="0.8"/>
<path d="M382 503.4 L400 501.4" fill="none" stroke="#333" stroke-width="0.8"/>
<ellipse cx="380" cy="488" rx="7.4" ry="15.4" transform="rotate(-6 380 488)" fill="none" stroke="#333" stroke-width="0.9"/>
<ellipse cx="380" cy="488" rx="5.77" ry="12.94" transform="rotate(-6 380 488)" fill="none" stroke="#333" stroke-width="0.7"/>
<path d="M375.93 481.53 L384.44 481.07 M375.93 494.47 L384.44 494.16" fill="none" stroke="#333" stroke-width="0.8"/>
<path d="M377.78 480.3 L381.48 477.22 L383.33 480.3 Z M377.78 495.7 L381.48 498.78 L383.33 495.7 Z" fill="none" stroke="#333" stroke-width="1.0"/>
<ellipse cx="431.5" cy="482.6" rx="9.8" ry="16.3" transform="rotate(-6 431.5 482.6)" fill="none" stroke="#333" stroke-width="0.8"/>
<ellipse cx="431.5" cy="482.6" rx="7" ry="13.5" transform="rotate(-6 431.5 482.6)" fill="none" stroke="#333" stroke-width="0.8"/>
<ellipse cx="431.5" cy="482.6" rx="8.4" ry="14.9" transform="rotate(-6 431.5 482.6)" fill="none" stroke="#555" stroke-width="0.9"/>
<ellipse cx="1044.1" cy="320" rx="8.8" ry="15.7" transform="rotate(-6 1044.1 320)" fill="none" stroke="#333" stroke-width="0.8"/>
<ellipse cx="1044.1" cy="320" rx="6.2" ry="13.1" transform="rotate(-6 1044.1 320)" fill="none" stroke="#333" stroke-width="0.8"/>
<ellipse cx="1078.1" cy="316" rx="8.5" ry="15.7" transform="rotate(-6 1078.1 316)" fill="none" stroke="#333" stroke-width="0.9"/>
<path d="M1077.79 300.51 L1078.44 300.53 L1079.1 300.64 L1079.76 300.84 L1080.42 301.12 L1081.07 301.5 L1081.7 301.96 L1082.33 302.49 L1082.93 303.11 L1083.51 303.81 L1084.06 304.57 L1084.59 305.4 L1085.08 306.3 L1085.54 307.24 L1085.96 308.24 L1086.33 309.29 L1086.67 310.37 L1086.96 311.49 L1087.21 312.63 L1087.41 313.79 L1087.55 314.96 L1087.65 316.14 L1087.7 317.32 L1087.7 318.48 L1087.64 319.63 L1087.54 320.76 L1087.39 321.86 L1087.19 322.93 L1086.94 323.95 L1086.64 324.93 L1086.3 325.85 L1085.92 326.71 L1085.49 327.51 L1085.03 328.24 L1084.54 328.9 L1084.01 329.48 L1083.45 329.98 L1082.87 330.4 L1082.27 330.73 L1081.64 330.97 L1081 331.13" fill="none" stroke="#2a2a2a" stroke-width="0.9"/>
<path d="M1078.82 300.66 L1079.47 300.68 L1080.13 300.78 L1080.79 300.98 L1081.45 301.25 L1082.1 301.62 L1082.73 302.07 L1083.35 302.6 L1083.95 303.2 L1084.53 303.88 L1085.08 304.63 L1085.61 305.44 L1086.1 306.32 L1086.55 307.25 L1086.97 308.23 L1087.35 309.25 L1087.68 310.31 L1087.97 311.41 L1088.21 312.52 L1088.41 313.66 L1088.55 314.81 L1088.65 315.97 L1088.7 317.12 L1088.69 318.26 L1088.63 319.39 L1088.53 320.5 L1088.37 321.58 L1088.17 322.63 L1087.92 323.63 L1087.62 324.59 L1087.28 325.49 L1086.89 326.34 L1086.47 327.12 L1086.01 327.84 L1085.51 328.49 L1084.98 329.06 L1084.42 329.55 L1083.84 329.96 L1083.23 330.28 L1082.61 330.52 L1081.97 330.68" fill="none" stroke="#2a2a2a" stroke-width="0.9"/>
<path d="M1079.85 300.81 L1080.5 300.82 L1081.16 300.93 L1081.82 301.11 L1082.48 301.39 L1083.13 301.74 L1083.76 302.18 L1084.38 302.7 L1084.98 303.29 L1085.56 303.95 L1086.11 304.69 L1086.63 305.48 L1087.12 306.34 L1087.57 307.25 L1087.98 308.21 L1088.36 309.21 L1088.69 310.25 L1088.98 311.32 L1089.22 312.42 L1089.41 313.53 L1089.55 314.66 L1089.65 315.79 L1089.69 316.92 L1089.68 318.05 L1089.63 319.15 L1089.52 320.24 L1089.36 321.3 L1089.15 322.32 L1088.9 323.31 L1088.6 324.25 L1088.26 325.14 L1087.87 325.97 L1087.44 326.74 L1086.98 327.44 L1086.48 328.07 L1085.95 328.64 L1085.39 329.12 L1084.81 329.52 L1084.2 329.84 L1083.58 330.08 L1082.94 330.23" fill="none" stroke="#2a2a2a" stroke-width="0.9"/>
<path d="M1080.88 300.96 L1081.54 300.97 L1082.2 301.07 L1082.85 301.25 L1083.51 301.52 L1084.15 301.86 L1084.79 302.29 L1085.41 302.8 L1086 303.38 L1086.58 304.03 L1087.13 304.74 L1087.65 305.52 L1088.13 306.36 L1088.59 307.25 L1089 308.19 L1089.37 309.17 L1089.7 310.19 L1089.98 311.24 L1090.22 312.32 L1090.41 313.41 L1090.55 314.51 L1090.64 315.62 L1090.69 316.73 L1090.68 317.83 L1090.62 318.91 L1090.51 319.98 L1090.35 321.02 L1090.14 322.02 L1089.88 322.99 L1089.58 323.91 L1089.23 324.78 L1088.85 325.59 L1088.42 326.35 L1087.95 327.04 L1087.45 327.66 L1086.92 328.21 L1086.36 328.69 L1085.78 329.08 L1085.17 329.4 L1084.55 329.63 L1083.91 329.78" fill="none" stroke="#2a2a2a" stroke-width="0.9"/>
<path d="M1081.91 301.11 L1082.57 301.12 L1083.23 301.21 L1083.88 301.39 L1084.54 301.65 L1085.18 301.99 L1085.81 302.4 L1086.43 302.9 L1087.03 303.46 L1087.6 304.1 L1088.15 304.8 L1088.67 305.56 L1089.15 306.38 L1089.6 307.26 L1090.01 308.17 L1090.38 309.14 L1090.71 310.13 L1090.99 311.16 L1091.23 312.21 L1091.41 313.28 L1091.55 314.36 L1091.64 315.45 L1091.68 316.53 L1091.67 317.61 L1091.61 318.67 L1091.49 319.72 L1091.33 320.73 L1091.12 321.72 L1090.86 322.66 L1090.56 323.57 L1090.21 324.42 L1089.82 325.22 L1089.39 325.96 L1088.93 326.64 L1088.43 327.25 L1087.89 327.79 L1087.33 328.26 L1086.75 328.65 L1086.14 328.96 L1085.52 329.19 L1084.88 329.33" fill="none" stroke="#2a2a2a" stroke-width="1.1"/>
<ellipse cx="1077.6" cy="316.5" rx="4" ry="10.2" transform="rotate(-6 1077.6 316.5)" fill="none" stroke="#333" stroke-width="0.7"/>
<ellipse cx="1077.6" cy="316.5" rx="3.4" ry="6.6" transform="rotate(-6 1077.6 316.5)" fill="none" stroke="#333" stroke-width="1.0"/>
<ellipse cx="1077.8" cy="316.5" rx="2.2" ry="5" transform="rotate(-6 1077.8 316.5)" fill="none" stroke="#333" stroke-width="0.7"/>
<ellipse cx="1118.4" cy="312.4" rx="10.4" ry="10.19" fill="none" stroke="#333" stroke-width="0.8"/>
<path d="M1171.04 290.99 L1172.09 290.96 L1173.14 291.12 L1174.19 291.44 L1175.23 291.93 L1176.23 292.58 L1177.2 293.39 L1178.12 294.35 L1178.98 295.44 L1179.77 296.66 L1180.48 297.99 L1181.11 299.41 L1181.64 300.92 L1182.08 302.49 L1182.42 304.11 L1182.65 305.75 L1182.76 307.41 L1182.77 309.07 L1182.67 310.69 L1182.46 312.28 L1182.14 313.8 L1181.72 315.25 L1181.2 316.6 L1180.59 317.85 L1179.89 318.98 L1179.11 319.97 L1178.26 320.82 L1177.35 321.52 L1176.39 322.05 L1175.39 322.42 L1174.36 322.61" fill="none" stroke="#333" stroke-width="0.8"/>
<path d="M1154.7 292.8 L1172.7 290.9" fill="none" stroke="#333" stroke-width="0.8"/>
<path d="M1155.7 324.6 L1172.7 322.7" fill="none" stroke="#333" stroke-width="0.8"/>
<ellipse cx="1153.7" cy="308.7" rx="8" ry="15.9" transform="rotate(-6 1153.7 308.7)" fill="none" stroke="#333" stroke-width="0.9"/>
<ellipse cx="1153.7" cy="308.7" rx="6.24" ry="13.36" transform="rotate(-6 1153.7 308.7)" fill="none" stroke="#333" stroke-width="0.7"/>
<path d="M1149.3 302.02 L1158.5 301.55 M1149.3 315.38 L1158.5 315.06" fill="none" stroke="#333" stroke-width="0.8"/>
<path d="M1151.3 300.75 L1155.3 297.57 L1157.3 300.75 Z M1151.3 316.65 L1155.3 319.83 L1157.3 316.65 Z" fill="none" stroke="#333" stroke-width="1.0"/>
<ellipse cx="1201.2" cy="304.3" rx="9.5" ry="15.7" transform="rotate(-6 1201.2 304.3)" fill="none" stroke="#333" stroke-width="0.9"/>
<ellipse cx="1200.4" cy="304.3" rx="8" ry="14.1" transform="rotate(-6 1200.4 304.3)" fill="none" stroke="#333" stroke-width="0.6"/>
<ellipse cx="1198.7" cy="304.3" rx="5.9" ry="11.5" transform="rotate(-6 1198.7 304.3)" fill="none" stroke="#555" stroke-width="1.1"/>
<ellipse cx="1198.4" cy="304.6" rx="4.5" ry="9.4" transform="rotate(-6 1198.4 304.6)" fill="none" stroke="#333" stroke-width="0.8"/>
<ellipse cx="1078.2" cy="417.2" rx="9.3" ry="15.7" transform="rotate(-6 1078.2 417.2)" fill="none" stroke="#333" stroke-width="0.8"/>
<ellipse cx="1078.2" cy="417.2" rx="6.5" ry="12.9" transform="rotate(-6 1078.2 417.2)" fill="none" stroke="#333" stroke-width="0.8"/>
<ellipse cx="1078.2" cy="417.2" rx="7.9" ry="14.3" transform="rotate(-6 1078.2 417.2)" fill="none" stroke="#555" stroke-width="0.9"/>
<path d="M1116.58 397.38 L1117.31 397.38 L1118.04 397.55 L1118.77 397.86 L1119.5 398.33 L1120.21 398.95 L1120.89 399.71 L1121.55 400.6 L1122.17 401.62 L1122.74 402.74 L1123.26 403.97 L1123.73 405.28 L1124.13 406.66 L1124.47 408.1 L1124.74 409.58 L1124.94 411.08 L1125.06 412.59 L1125.1 414.1 L1125.07 415.57 L1124.96 417.01 L1124.78 418.39 L1124.52 419.69 L1124.2 420.92 L1123.8 422.04 L1123.35 423.04 L1122.83 423.93 L1122.27 424.68 L1121.65 425.29 L1121 425.76 L1120.32 426.07 L1119.62 426.22" fill="none" stroke="#333" stroke-width="0.8"/>
<path d="M1097.1 399.5 L1118.1 397.3" fill="none" stroke="#333" stroke-width="0.8"/>
<path d="M1098.1 428.5 L1118.1 426.3" fill="none" stroke="#333" stroke-width="0.8"/>
<ellipse cx="1096.1" cy="414" rx="5.5" ry="14.5" transform="rotate(-6 1096.1 414)" fill="none" stroke="#333" stroke-width="0.9"/>
<ellipse cx="1096.1" cy="414" rx="4.29" ry="12.18" transform="rotate(-6 1096.1 414)" fill="none" stroke="#333" stroke-width="0.7"/>
<ellipse cx="1096.1" cy="414" rx="2.75" ry="7.98" transform="rotate(-6 1096.1 414)" fill="none" stroke="#333" stroke-width="1.0"/>
<ellipse cx="1096.6" cy="414" rx="1.76" ry="5.8" transform="rotate(-6 1096.6 414)" fill="none" stroke="#444" stroke-width="0.8"/>
<ellipse cx="1141.5" cy="410.7" rx="10.4" ry="10.19" fill="none" stroke="#333" stroke-width="0.8"/>
<ellipse cx="1164.7" cy="408" rx="11" ry="15.7" transform="rotate(-6 1164.7 408)" fill="none" stroke="#2a2a2a" stroke-width="1.4"/>
<ellipse cx="1164.2" cy="408" rx="9.8" ry="14.5" transform="rotate(-6 1164.2 408)" fill="none" stroke="#333" stroke-width="0.7"/>
<path d="M1166.08 396.43 L1166.54 396.56 L1167 396.75 L1167.46 396.99 L1167.91 397.29 L1168.35 397.65 L1168.79 398.06 L1169.21 398.52 L1169.61 399.03 L1170 399.58 L1170.37 400.18 L1170.72 400.81 L1171.05 401.49 L1171.35 402.2 L1171.63 402.94 L1171.89 403.71 L1172.11 404.5 L1172.31 405.31 L1172.47 406.13 L1172.61 406.97 L1172.71 407.82 L1172.79 408.66 L1172.83 409.51 L1172.84 410.35 L1172.81 411.19 L1172.76 412.01 L1172.67 412.81 L1172.55 413.59 L1172.4 414.35 L1172.22 415.08 L1172.01 415.77 L1171.77 416.44 L1171.51 417.06 L1171.22 417.64 L1170.9 418.18 L1170.56 418.67 L1170.2 419.11 L1169.82 419.49 L1169.43 419.83 L1169.01 420.11 L1168.59 420.33" fill="none" stroke="#444" stroke-width="0.9"/>
<path d="M1167.5 396.44 L1167.93 396.57 L1168.36 396.76 L1168.79 397.01 L1169.21 397.32 L1169.63 397.67 L1170.04 398.08 L1170.43 398.55 L1170.81 399.06 L1171.18 399.61 L1171.53 400.21 L1171.86 400.85 L1172.17 401.53 L1172.46 402.24 L1172.72 402.98 L1172.96 403.75 L1173.18 404.54 L1173.37 405.35 L1173.53 406.18 L1173.66 407.02 L1173.77 407.86 L1173.84 408.71 L1173.89 409.56 L1173.9 410.4 L1173.88 411.23 L1173.84 412.05 L1173.76 412.85 L1173.66 413.63 L1173.52 414.39 L1173.36 415.12 L1173.17 415.81 L1172.95 416.47 L1172.71 417.09 L1172.44 417.67 L1172.15 418.2 L1171.84 418.69 L1171.51 419.13 L1171.15 419.51 L1170.79 419.84 L1170.41 420.12 L1170.01 420.34" fill="none" stroke="#444" stroke-width="0.9"/>
<ellipse cx="1165.2" cy="408.5" rx="3.6" ry="7" transform="rotate(-6 1165.2 408.5)" fill="none" stroke="#333" stroke-width="0.9"/>
<ellipse cx="1165.5" cy="408.5" rx="2.4" ry="5.5" transform="rotate(-6 1165.5 408.5)" fill="none" stroke="#555" stroke-width="0.9"/>
<ellipse cx="1189.2" cy="405.6" rx="9.3" ry="15.1" transform="rotate(-6 1189.2 405.6)" fill="none" stroke="#333" stroke-width="0.8"/>
<ellipse cx="1189.2" cy="405.6" rx="6.9" ry="12.7" transform="rotate(-6 1189.2 405.6)" fill="none" stroke="#333" stroke-width="0.8"/>
<ellipse cx="1211.6" cy="404.1" rx="9.3" ry="15.7" transform="rotate(-6 1211.6 404.1)" fill="none" stroke="#333" stroke-width="0.9"/>
<ellipse cx="1210.8" cy="404.1" rx="7.8" ry="14.1" transform="rotate(-6 1210.8 404.1)" fill="none" stroke="#333" stroke-width="0.6"/>
<ellipse cx="1209.1" cy="404.1" rx="5.7" ry="11.5" transform="rotate(-6 1209.1 404.1)" fill="none" stroke="#555" stroke-width="1.1"/>
<ellipse cx="1208.8" cy="404.4" rx="4.3" ry="9.4" transform="rotate(-6 1208.8 404.4)" fill="none" stroke="#333" stroke-width="0.8"/>
<ellipse cx="1257" cy="314.4" rx="35.5" ry="68.5" transform="rotate(-5 1257 314.4)" fill="none" stroke="#333" stroke-width="1.0"/>
<path d="M1244.98 247.73 L1247.67 246.77 L1250.41 246.23 L1253.2 246.1 L1256.01 246.39 L1258.83 247.11 L1261.63 248.24 L1264.41 249.77 L1267.14 251.71 L1269.8 254.03 L1272.39 256.73 L1274.89 259.78 L1277.27 263.16 L1279.53 266.87 L1281.65 270.86 L1283.62 275.13 L1285.42 279.63 L1287.05 284.35 L1288.49 289.26 L1289.74 294.32 L1290.79 299.5 L1291.63 304.78 L1292.26 310.12 L1292.66 315.48 L1292.85 320.83 L1292.82 326.15 L1292.57 331.39 L1292.09 336.53 L1291.4 341.53 L1290.5 346.37 L1289.39 351.01 L1288.09 355.42 L1286.59 359.58 L1284.9 363.46 L1283.05 367.04 L1281.04 370.29 L1278.87 373.2 L1276.58 375.75 L1274.16 377.91 L1271.63 379.69 L1269.02 381.07" fill="none" stroke="#333" stroke-width="1.8"/>
<ellipse cx="1257.43" cy="314.33" rx="34.65" ry="66.69" transform="rotate(-5 1257.43 314.33)" fill="none" stroke="#3a3a3a" stroke-width="0.55"/>
<ellipse cx="1257.87" cy="314.27" rx="33.79" ry="64.87" transform="rotate(-5 1257.87 314.27)" fill="none" stroke="#3a3a3a" stroke-width="0.55"/>
<ellipse cx="1258.3" cy="314.2" rx="32.94" ry="63.06" transform="rotate(-5 1258.3 314.2)" fill="none" stroke="#3a3a3a" stroke-width="0.8"/>
<ellipse cx="1259.17" cy="314.07" rx="31.23" ry="59.43" transform="rotate(-5 1259.17 314.07)" fill="none" stroke="#3a3a3a" stroke-width="0.55"/>
<ellipse cx="1259.6" cy="314" rx="30.38" ry="57.62" transform="rotate(-5 1259.6 314)" fill="none" stroke="#3a3a3a" stroke-width="0.8"/>
<ellipse cx="1260.03" cy="313.93" rx="29.53" ry="55.81" transform="rotate(-5 1260.03 313.93)" fill="none" stroke="#3a3a3a" stroke-width="0.55"/>
<ellipse cx="1260.47" cy="313.87" rx="28.67" ry="53.99" transform="rotate(-5 1260.47 313.87)" fill="none" stroke="#3a3a3a" stroke-width="0.55"/>
<ellipse cx="1260.9" cy="313.8" rx="27.82" ry="52.18" transform="rotate(-5 1260.9 313.8)" fill="none" stroke="#3a3a3a" stroke-width="0.8"/>
<ellipse cx="1261.33" cy="313.73" rx="26.97" ry="50.37" transform="rotate(-5 1261.33 313.73)" fill="none" stroke="#3a3a3a" stroke-width="0.55"/>
<ellipse cx="1261.77" cy="313.67" rx="26.11" ry="48.55" transform="rotate(-5 1261.77 313.67)" fill="none" stroke="#3a3a3a" stroke-width="0.55"/>
<ellipse cx="1262.2" cy="313.6" rx="25.26" ry="46.74" transform="rotate(-5 1262.2 313.6)" fill="none" stroke="#3a3a3a" stroke-width="0.8"/>
<ellipse cx="1262.63" cy="313.53" rx="24.41" ry="44.93" transform="rotate(-5 1262.63 313.53)" fill="none" stroke="#3a3a3a" stroke-width="0.55"/>
<ellipse cx="1263.07" cy="313.47" rx="23.55" ry="43.11" transform="rotate(-5 1263.07 313.47)" fill="none" stroke="#3a3a3a" stroke-width="0.55"/>
<ellipse cx="1263.5" cy="313.4" rx="22.7" ry="41.3" transform="rotate(-5 1263.5 313.4)" fill="none" stroke="#333" stroke-width="0.8"/>
<ellipse cx="1264.5" cy="313.4" rx="18.5" ry="35" transform="rotate(-5 1264.5 313.4)" fill="none" stroke="#333" stroke-width="0.9"/>
<ellipse cx="1264.5" cy="313.4" rx="17.3" ry="33.6" transform="rotate(-5 1264.5 313.4)" fill="none" stroke="#555" stroke-width="0.5"/>
<path d="M1247.2 310.5 L1262 308.5 M1247.2 317.5 L1262 315.5" fill="none" stroke="#333" stroke-width="0.8"/>
<ellipse cx="1247.5" cy="314" rx="1.6" ry="3.5" fill="none" stroke="#333" stroke-width="0.8"/>
<ellipse cx="1261.5" cy="312" rx="3.5" ry="5" fill="none" stroke="#333" stroke-width="0.9"/>
<ellipse cx="1266" cy="324" rx="2.3" ry="3.7" transform="rotate(-10 1266 324)" fill="none" stroke="#333" stroke-width="0.8"/>
<path d="M1254 305 L1256 300 L1259 303 L1257 308 Z" fill="none" stroke="#333" stroke-width="0.7"/>
<ellipse cx="1353.2" cy="302.3" rx="54.5" ry="109.5" transform="rotate(-6 1353.2 302.3)" fill="none" stroke="#333" stroke-width="1.0"/>
<path d="M1360 192.3 L1363.58 192.32 L1367.19 192.81 L1370.82 193.77 L1374.44 195.18 L1378.04 197.05 L1381.61 199.37 L1385.13 202.12 L1388.59 205.3 L1391.97 208.89 L1395.25 212.87 L1398.43 217.24 L1401.49 221.96 L1404.41 227.02 L1407.19 232.4 L1409.8 238.08 L1412.25 244.03 L1414.52 250.22 L1416.6 256.63 L1418.48 263.23 L1420.15 269.99 L1421.61 276.89 L1422.85 283.9 L1423.87 290.97 L1424.65 298.1 L1425.2 305.23 L1425.52 312.35 L1425.59 319.42 L1425.43 326.42 L1425.04 333.3 L1424.41 340.05 L1423.55 346.64 L1422.46 353.03 L1421.14 359.2 L1419.61 365.12 L1417.86 370.76 L1415.92 376.11 L1413.77 381.14 L1411.44 385.83 L1408.93 390.15 L1406.26 394.1 L1403.43 397.64 L1400.46 400.78 L1397.36 403.49 L1394.15 405.76 L1390.83 407.58 L1387.42 408.95 L1383.94 409.86 L1380.4 410.3" fill="none" stroke="#333" stroke-width="0.9"/>
<path d="M1343 193.3 L1360 192.3" fill="none" stroke="#333" stroke-width="0.9"/>
<path d="M1363.4 411.3 L1380.4 410.3" fill="none" stroke="#333" stroke-width="0.9"/>
<ellipse cx="1354" cy="302.5" rx="51" ry="106" transform="rotate(-6 1354 302.5)" fill="none" stroke="#333" stroke-width="0.7"/>
<ellipse cx="1355.1" cy="305.5" rx="30.6" ry="60.4" transform="rotate(-6 1355.1 305.5)" fill="none" stroke="#333" stroke-width="0.8"/>
<ellipse cx="1357" cy="305" rx="27.5" ry="56.5" transform="rotate(-6 1357 305)" fill="none" stroke="#333" stroke-width="0.7"/>
<ellipse cx="1362" cy="303" rx="20" ry="47.6" transform="rotate(-6 1362 303)" fill="none" stroke="#333" stroke-width="0.9"/>
<path d="M1365.98 350.34 L1364.31 350.35 L1362.62 350.04 L1360.93 349.4 L1359.23 348.44 L1357.54 347.17 L1355.88 345.6 L1354.26 343.74 L1352.68 341.59 L1351.15 339.18 L1349.7 336.52 L1348.32 333.63 L1347.03 330.54 L1345.83 327.25 L1344.74 323.79 L1343.76 320.2 L1342.9 316.48 L1342.17 312.67 L1341.56 308.8 L1341.09 304.88 L1340.75 300.96 L1340.55 297.04 L1340.5 293.17 L1340.58 289.37 L1340.81 285.66 L1341.17 282.06 L1341.67 278.62 L1342.3 275.33 L1343.06 272.24 L1343.94 269.36 L1344.94 266.72 L1346.06 264.32 L1347.27 262.18 L1348.58 260.33 L1349.97 258.77 L1351.44 257.51 L1352.97 256.57 L1354.56 255.95 L1356.2 255.64 L1357.87 255.67 L1359.55 256.02" fill="none" stroke="#333" stroke-width="0.6"/>
<ellipse cx="1326.1" cy="220.1" rx="3.6" ry="6.5" transform="rotate(-6 1326.1 220.1)" fill="none" stroke="#333" stroke-width="0.8"/>
<ellipse cx="1339" cy="229.8" rx="3" ry="5.2" transform="rotate(-6 1339 229.8)" fill="none" stroke="#333" stroke-width="0.8"/>
<ellipse cx="1368" cy="237.8" rx="3" ry="5.2" transform="rotate(-6 1368 237.8)" fill="none" stroke="#333" stroke-width="0.8"/>
<ellipse cx="1318.1" cy="263.6" rx="3" ry="5.2" transform="rotate(-6 1318.1 263.6)" fill="none" stroke="#333" stroke-width="0.8"/>
<ellipse cx="1389" cy="284.5" rx="3" ry="5.2" transform="rotate(-6 1389 284.5)" fill="none" stroke="#333" stroke-width="0.8"/>
<ellipse cx="1310.7" cy="289.4" rx="3.6" ry="6.5" transform="rotate(-6 1310.7 289.4)" fill="none" stroke="#333" stroke-width="0.8"/>
<ellipse cx="1318.1" cy="321.6" rx="3" ry="5.2" transform="rotate(-6 1318.1 321.6)" fill="none" stroke="#333" stroke-width="0.8"/>
<ellipse cx="1389" cy="342.5" rx="3" ry="5.2" transform="rotate(-6 1389 342.5)" fill="none" stroke="#333" stroke-width="0.8"/>
<ellipse cx="1327.1" cy="369.9" rx="3.6" ry="6.5" transform="rotate(-6 1327.1 369.9)" fill="none" stroke="#333" stroke-width="0.8"/>
<ellipse cx="1339" cy="368.3" rx="3" ry="5.2" transform="rotate(-6 1339 368.3)" fill="none" stroke="#333" stroke-width="0.8"/>
<ellipse cx="1368" cy="376.4" rx="3" ry="5.2" transform="rotate(-6 1368 376.4)" fill="none" stroke="#333" stroke-width="0.8"/>
<ellipse cx="1353.5" cy="386" rx="3.6" ry="6.5" transform="rotate(-6 1353.5 386)" fill="none" stroke="#333" stroke-width="0.8"/>
<ellipse cx="1338.5" cy="296.1" rx="6" ry="4.6" fill="none" stroke="#333" stroke-width="0.9"/>
<path d="M1344 294 L1350 293.5 M1344 298.5 L1349 298" fill="none" stroke="#333" stroke-width="0.7"/>
<ellipse cx="1362.8" cy="348.7" rx="6" ry="3.6" transform="rotate(-35 1362.8 348.7)" fill="none" stroke="#333" stroke-width="0.9"/>
<path d="M1366 345 L1372 342 M1368 349 L1373 346" fill="none" stroke="#333" stroke-width="0.7"/>
<g transform="translate(546,104) rotate(-32)">
<path d="M-5.5 -16 L5.5 -16 L5.5 -11 L-5.5 -11 Z" fill="none" stroke="#333" stroke-width="0.8"/>
<ellipse cx="0" cy="-16" rx="5.5" ry="2.2" fill="none" stroke="#333" stroke-width="0.8"/>
<path d="M-7 -11 L7 -11 M-7 -9 L7 -9" fill="none" stroke="#333" stroke-width="1.0"/>
<path d="M-8 -9 L-9 -7 L-9 7 L-8 9 L8 9 L9 7 L9 -7 L8 -9 Z M-3 -9 L-3 9 M3 -9 L3 9" fill="none" stroke="#333" stroke-width="0.8"/>
<path d="M-7 9 L-7 14 M7 9 L7 14" fill="none" stroke="#333" stroke-width="0.8"/>
<ellipse cx="0" cy="14" rx="7" ry="3.5" fill="none" stroke="#333" stroke-width="0.9"/>
<ellipse cx="0" cy="14" rx="5" ry="2.4" fill="none" stroke="#333" stroke-width="0.6"/>
<ellipse cx="0" cy="14.3" rx="1.1" ry="0.8" fill="none" stroke="#333" stroke-width="0.7"/>
</g>
<path d="M544.66 149.16 L545.85 146.95 L547.3 144.76 L548.99 142.63 L550.92 140.57 L553.05 138.6 L555.36 136.75 L557.85 135.02 L560.47 133.45 L563.21 132.04 L566.03 130.8 L568.91 129.76 L571.82 128.91 L574.74 128.28 L577.63 127.86 L580.46 127.65 L583.21 127.67 L585.84 127.91 L588.35 128.37 L590.68 129.04 L592.84 129.92 L594.79 131 L596.51 132.27 L597.99 133.71 L599.21 135.31 L600.17 137.06 L600.84 138.93 L601.23 140.92 L601.34 142.99 L601.15 145.14 L600.67 147.33 L599.91 149.55 L598.87 151.77 L597.57 153.98 L596.02 156.14 L594.22 158.25 L592.21 160.27 L590 162.19 L587.61 164 L585.07 165.66 L582.39 167.17 L579.62 168.51 L576.76 169.66 L573.86 170.62 L570.95 171.38 L568.04 171.93 L565.17 172.26 L562.37 172.37 L559.67 172.25 L557.08 171.92 L554.65 171.37 L552.38 170.61 L550.31 169.65 L548.46 168.49 L546.84 167.15 L545.46 165.64 L544.35 163.97 L543.51 162.17 L542.96 160.24 L542.69 158.22 L542.71 156.11" fill="none" stroke="#333" stroke-width="0.9"/>
<path d="M548.25 148.3 L549.48 146.41 L550.93 144.56 L552.57 142.75 L554.4 141.01 L556.39 139.36 L558.53 137.81 L560.8 136.37 L563.17 135.07 L565.62 133.9 L568.14 132.88 L570.69 132.03 L573.26 131.34 L575.81 130.84 L578.33 130.51 L580.78 130.36 L583.16 130.41 L585.43 130.63 L587.57 131.04 L589.57 131.63 L591.4 132.39 L593.04 133.32 L594.49 134.4 L595.73 135.63 L596.74 137 L597.52 138.49 L598.06 140.09 L598.35 141.78 L598.4 143.55 L598.19 145.38 L597.74 147.25 L597.04 149.15 L596.11 151.06 L594.96 152.96 L593.58 154.83 L592 156.65 L590.24 158.41 L588.3 160.09 L586.2 161.68 L583.98 163.16 L581.64 164.51 L579.21 165.73 L576.71 166.79 L574.17 167.7 L571.6 168.45 L569.04 169.01 L566.51 169.4 L564.03 169.61 L561.63 169.63 L559.32 169.47 L557.13 169.12 L555.09 168.59 L553.2 167.89 L551.49 167.01 L549.97 165.98 L548.66 164.8 L547.57 163.47 L546.71 162.02 L546.09 160.46 L545.72 158.8 L545.59 157.05" fill="none" stroke="#333" stroke-width="0.8"/>
<path d="M546.8 148.8 L552 145 L554 147.5 L549 151 Z M543.6 156 L549 154.5 L550 158.5 L545 160 Z" fill="none" stroke="#333" stroke-width="0.8"/>
<ellipse cx="551" cy="148" rx="1" ry="1" fill="none" stroke="#333" stroke-width="0.6"/>
<path d="M573.89 214.31 L572.56 213.48 L571.35 212.55 L570.26 211.51 L569.3 210.38 L568.47 209.16 L567.78 207.86 L567.22 206.47 L566.82 205.02 L566.55 203.51 L566.44 201.93 L566.47 200.32 L566.64 198.66 L566.97 196.98 L567.44 195.27 L568.05 193.55 L568.8 191.83 L569.68 190.11 L570.7 188.41 L571.84 186.74 L573.1 185.09 L574.47 183.48 L575.95 181.93 L577.53 180.43 L579.19 178.99 L580.94 177.63 L582.76 176.35 L584.65 175.15 L586.58 174.05 L588.56 173.04 L590.57 172.13 L592.61 171.34 L594.65 170.65 L596.7 170.08 L598.73 169.63 L600.75 169.3 L602.74 169.09 L604.68 169.01 L606.58 169.05 L608.41 169.21 L610.18 169.5" fill="none" stroke="#333" stroke-width="1.1"/>
<path d="M574.71 215.02 L573.38 214.2 L572.17 213.26 L571.08 212.23 L570.12 211.1 L569.29 209.88 L568.6 208.57 L568.05 207.19 L567.64 205.74 L567.38 204.22 L567.26 202.65 L567.29 201.03 L567.47 199.38 L567.79 197.69 L568.26 195.99 L568.87 194.27 L569.62 192.55 L570.51 190.83 L571.52 189.13 L572.66 187.45 L573.92 185.8 L575.3 184.2 L576.78 182.64 L578.35 181.14 L580.02 179.71 L581.77 178.35 L583.59 177.06 L585.47 175.87 L587.41 174.76 L589.39 173.75 L591.4 172.85 L593.43 172.05 L595.48 171.37 L597.52 170.8 L599.56 170.35 L601.58 170.02 L603.56 169.81 L605.51 169.72 L607.41 169.76 L609.24 169.93 L611 170.21" fill="none" stroke="#333" stroke-width="0.8"/>
<path d="M575.54 215.74 L574.21 214.91 L573 213.98 L571.91 212.94 L570.95 211.81 L570.12 210.59 L569.43 209.29 L568.87 207.9 L568.47 206.45 L568.2 204.94 L568.09 203.36 L568.12 201.75 L568.29 200.09 L568.62 198.41 L569.09 196.7 L569.7 194.98 L570.45 193.26 L571.33 191.54 L572.35 189.84 L573.49 188.17 L574.75 186.52 L576.12 184.91 L577.6 183.36 L579.18 181.86 L580.84 180.42 L582.59 179.06 L584.41 177.78 L586.3 176.58 L588.23 175.48 L590.21 174.47 L592.22 173.56 L594.26 172.77 L596.3 172.08 L598.35 171.51 L600.38 171.06 L602.4 170.73 L604.39 170.52 L606.33 170.44 L608.23 170.48 L610.06 170.64 L611.83 170.93" fill="none" stroke="#333" stroke-width="0.8"/>
<path d="M576.36 216.45 L575.03 215.63 L573.82 214.69 L572.73 213.66 L571.77 212.53 L570.94 211.31 L570.25 210 L569.7 208.62 L569.29 207.17 L569.03 205.65 L568.91 204.08 L568.94 202.46 L569.12 200.81 L569.44 199.12 L569.91 197.42 L570.52 195.7 L571.27 193.98 L572.16 192.26 L573.17 190.56 L574.31 188.88 L575.57 187.23 L576.95 185.63 L578.43 184.07 L580 182.57 L581.67 181.14 L583.42 179.78 L585.24 178.49 L587.12 177.3 L589.06 176.19 L591.04 175.18 L593.05 174.28 L595.08 173.48 L597.13 172.8 L599.17 172.23 L601.21 171.78 L603.23 171.45 L605.21 171.24 L607.16 171.15 L609.06 171.19 L610.89 171.36 L612.65 171.64" fill="none" stroke="#333" stroke-width="0.8"/>
<path d="M577.19 217.17 L575.86 216.34 L574.65 215.41 L573.56 214.37 L572.6 213.24 L571.77 212.02 L571.08 210.72 L570.52 209.33 L570.12 207.88 L569.85 206.37 L569.74 204.79 L569.77 203.18 L569.94 201.52 L570.27 199.84 L570.74 198.13 L571.35 196.41 L572.1 194.69 L572.98 192.97 L574 191.27 L575.14 189.6 L576.4 187.95 L577.77 186.34 L579.25 184.79 L580.83 183.29 L582.49 181.85 L584.24 180.49 L586.06 179.21 L587.95 178.01 L589.88 176.91 L591.86 175.9 L593.87 174.99 L595.91 174.2 L597.95 173.51 L600 172.94 L602.03 172.49 L604.05 172.16 L606.04 171.95 L607.98 171.87 L609.88 171.91 L611.71 172.07 L613.48 172.36" fill="none" stroke="#333" stroke-width="0.7"/>
<ellipse cx="599" cy="196.5" rx="31" ry="20.5" transform="rotate(-32 599 196.5)" fill="none" stroke="#333" stroke-width="1.0"/>
<ellipse cx="598.8" cy="198" rx="6.5" ry="4.6" transform="rotate(-25 598.8 198)" fill="none" stroke="#333" stroke-width="1.0"/>
<ellipse cx="598.8" cy="198" rx="5" ry="3.3" transform="rotate(-25 598.8 198)" fill="none" stroke="#333" stroke-width="0.7"/>
<ellipse cx="625" cy="242.5" rx="29.5" ry="19.5" transform="rotate(-35 625 242.5)" fill="none" stroke="#333" stroke-width="0.9"/>
<ellipse cx="625" cy="242.5" rx="27.3" ry="17.4" transform="rotate(-35 625 242.5)" fill="none" stroke="#333" stroke-width="0.8"/>
<path d="M692.3 42 L692.3 55 M707.5 42 L707.5 55" fill="none" stroke="#333" stroke-width="0.8"/>
<ellipse cx="699.9" cy="42" rx="7.6" ry="2.3" fill="none" stroke="#2a2a2a" stroke-width="1.3"/>
<path d="M692.5 43.5 Q700 46 707.3 43.5" fill="none" stroke="#555" stroke-width="0.9"/>
<path d="M690.5 55 Q700 53 709.6 55 L709.6 59.8 Q700 61.5 690.5 59.8 Z" fill="none" stroke="#333" stroke-width="0.9"/>
<path d="M690.5 57.3 Q700 59 709.6 57.3" fill="none" stroke="#333" stroke-width="1.0"/>
<path d="M685.3 59.5 Q700 56.5 714.6 59.5 L714.6 71.3 Q700 73.8 685.3 71.3 Z M698.6 58 L698.6 72.8 M688 59 L688 72 M711.5 59 L711.5 72" fill="none" stroke="#333" stroke-width="0.8"/>
<path d="M692.3 73.3 L692.3 86 Q699.9 89 707.5 86 L707.5 73.3" fill="none" stroke="#333" stroke-width="0.8"/>
<path d="M692.3 74.5 Q700 77 707.5 74.5 M692.3 76 Q700 78.5 707.5 76" fill="none" stroke="#444" stroke-width="0.9"/>
<path d="M687.2 107 L687.2 145.3 L713.4 145.3 L713.4 107 M698.6 107 L698.6 145.3" fill="none" stroke="#333" stroke-width="0.8"/>
<ellipse cx="700.3" cy="106.5" rx="13" ry="2.6" fill="none" stroke="#333" stroke-width="0.9"/>
<ellipse cx="700.3" cy="106.5" rx="6" ry="1.6" fill="none" stroke="#333" stroke-width="0.7"/>
<path d="M688.7 145.3 L688.7 171 L711.3 171 L711.3 145.3 M688.7 160.3 L711.3 160.3" fill="none" stroke="#333" stroke-width="0.8"/>
<path d="M690.7 171 L690.7 178 Q700 180.5 709.3 178 L709.3 171" fill="none" stroke="#333" stroke-width="0.8"/>
<ellipse cx="700.2" cy="202.5" rx="4.9" ry="1.6" fill="none" stroke="#333" stroke-width="1.1"/>
<ellipse cx="700.2" cy="202.5" rx="3.6" ry="1" fill="none" stroke="#333" stroke-width="0.7"/>
<path d="M695.3 202.5 L695.3 239 M705.1 202.5 L705.1 239" fill="none" stroke="#333" stroke-width="0.8"/>
<path d="M695.3 239 Q692 239.5 691.8 241.5 L691.8 246.5 Q700.3 249.5 708.9 246.5 L708.9 241.5 Q708.5 239.5 705.1 239" fill="none" stroke="#333" stroke-width="0.9"/>
<path d="M691.8 242 Q700.3 244.5 708.9 242" fill="none" stroke="#333" stroke-width="0.7"/>
<ellipse cx="830.3" cy="85" rx="12" ry="6.5" transform="rotate(8 830.3 85)" fill="none" stroke="#333" stroke-width="1.2"/>
<ellipse cx="830.3" cy="85.5" rx="10.8" ry="5.6" transform="rotate(8 830.3 85.5)" fill="none" stroke="#444" stroke-width="0.8"/>
<ellipse cx="830.3" cy="86" rx="9.5" ry="4.7" transform="rotate(8 830.3 86)" fill="none" stroke="#333" stroke-width="0.7"/>
<ellipse cx="830" cy="85" rx="4.5" ry="3" transform="rotate(8 830 85)" fill="none" stroke="#222" stroke-width="1.8"/>
<ellipse cx="830" cy="85" rx="2.5" ry="1.6" transform="rotate(8 830 85)" fill="none" stroke="#555" stroke-width="1.2"/>
<path d="M818.5 87 L818.9 96 Q827 104 836.8 98 L837 91" fill="none" stroke="#333" stroke-width="0.8"/>
<path d="M842.18 90.67 L842.08 91.17 L841.9 91.66 L841.64 92.13 L841.32 92.58 L840.93 93.01 L840.48 93.41 L839.96 93.79 L839.38 94.13 L838.75 94.45 L838.06 94.73 L837.33 94.98 L836.55 95.19 L835.74 95.36 L834.89 95.49 L834.01 95.59 L833.11 95.64 L832.19 95.65 L831.27 95.62 L830.33 95.55 L829.4 95.44 L828.47 95.29 L827.55 95.1 L826.65 94.87 L825.77 94.61 L824.92 94.31 L824.1 93.98 L823.32 93.62 L822.58 93.23 L821.89 92.81 L821.26 92.37 L820.68 91.91 L820.15 91.43 L819.7 90.94 L819.3 90.43 L818.98 89.92 L818.72 89.4 L818.53 88.88 L818.42 88.36 L818.38 87.84 L818.42 87.33" fill="none" stroke="#333" stroke-width="0.9"/>
<ellipse cx="815.9" cy="122.3" rx="8" ry="6.2" transform="rotate(15 815.9 122.3)" fill="none" stroke="#333" stroke-width="0.8"/>
<ellipse cx="815.9" cy="122.3" rx="6" ry="4.2" transform="rotate(15 815.9 122.3)" fill="none" stroke="#333" stroke-width="0.8"/>
<ellipse cx="815.9" cy="122.3" rx="7" ry="5.2" transform="rotate(15 815.9 122.3)" fill="none" stroke="#666" stroke-width="0.9"/>
<ellipse cx="778" cy="213.1" rx="8" ry="6" transform="rotate(15 778 213.1)" fill="none" stroke="#333" stroke-width="0.8"/>
<ellipse cx="778" cy="213.1" rx="6" ry="4" transform="rotate(15 778 213.1)" fill="none" stroke="#333" stroke-width="0.8"/>
<ellipse cx="778" cy="213.1" rx="7" ry="5" transform="rotate(15 778 213.1)" fill="none" stroke="#666" stroke-width="0.9"/>
<g transform="translate(796.5,169.5) rotate(23)">
<path d="M-6.5 -22 L-6.5 22 M6.5 -22 L6.5 22" fill="none" stroke="#333" stroke-width="0.8"/>
<path d="M-7.5 -31 L-7.5 -22 L7.5 -22 L7.5 -31" fill="none" stroke="#222" stroke-width="1.0"/>
<path d="M-7.5 -30 L7.5 -30" fill="none" stroke="#444" stroke-width="0.5"/>
<path d="M-7.5 -28 L7.5 -28" fill="none" stroke="#444" stroke-width="0.5"/>
<path d="M-7.5 -26 L7.5 -26" fill="none" stroke="#444" stroke-width="0.5"/>
<path d="M-7.5 -24 L7.5 -24" fill="none" stroke="#444" stroke-width="0.5"/>
<path d="M-7.5 -22 L7.5 -22" fill="none" stroke="#444" stroke-width="0.5"/>
<ellipse cx="0" cy="-32" rx="6.5" ry="3.5" fill="none" stroke="#333" stroke-width="0.9"/>
<path d="M-6.5 -32 L-6.5 -27 M6.5 -32 L6.5 -27" fill="none" stroke="#333" stroke-width="0.8"/>
<path d="M-7.5 22 L-7.5 31 L7.5 31 L7.5 22" fill="none" stroke="#222" stroke-width="1.0"/>
<path d="M-7.5 23 L7.5 23" fill="none" stroke="#444" stroke-width="0.5"/>
<path d="M-7.5 25 L7.5 25" fill="none" stroke="#444" stroke-width="0.5"/>
<path d="M-7.5 27 L7.5 27" fill="none" stroke="#444" stroke-width="0.5"/>
<path d="M-7.5 29 L7.5 29" fill="none" stroke="#444" stroke-width="0.5"/>
<path d="M-6 31 L-6 35 Q0 37.5 6 35 L6 31" fill="none" stroke="#333" stroke-width="0.8"/>
<path d="M-6.5 -3 Q0 -7 6.5 -3 M-6.5 8 Q0 4 6.5 8" fill="none" stroke="#333" stroke-width="0.8"/>
</g>
<path d="M700.2 306.4 C708 292 720 283 737.5 282.6 C762 283 782 318 788 360 C792 400 776 448 746.8 455" fill="none" stroke="#333" stroke-width="0.9"/>
<path d="M726 283.9 C750 286 768 310 776 345 C783 385 772 430 750 452" fill="none" stroke="#333" stroke-width="0.8"/>
<path d="M724 286 C746 290 762 312 771 340 C778 380 768 425 747 451" fill="none" stroke="#333" stroke-width="0.6"/>
<path d="M727.2 309.6 C745 316 760 338 764.6 358.6" fill="none" stroke="#333" stroke-width="0.8"/>
<path d="M730 309 C748 317 763 338 767 357" fill="none" stroke="#333" stroke-width="0.6"/>
<path d="M776.5 372 C772 400 765 430 745.4 452.8" fill="none" stroke="#333" stroke-width="0.8"/>
<ellipse cx="719.6" cy="294.5" rx="2.5" ry="4.3" transform="rotate(-4 719.6 294.5)" fill="none" stroke="#333" stroke-width="0.8"/>
<ellipse cx="748.7" cy="303.5" rx="2.5" ry="4.3" transform="rotate(-4 748.7 303.5)" fill="none" stroke="#333" stroke-width="0.8"/>
<ellipse cx="768.6" cy="349.9" rx="2.5" ry="4.3" transform="rotate(-4 768.6 349.9)" fill="none" stroke="#333" stroke-width="0.8"/>
<ellipse cx="768.7" cy="407.4" rx="2.5" ry="4.3" transform="rotate(-4 768.7 407.4)" fill="none" stroke="#333" stroke-width="0.8"/>
<ellipse cx="748.2" cy="441.5" rx="2.5" ry="4.3" transform="rotate(-4 748.2 441.5)" fill="none" stroke="#333" stroke-width="0.8"/>
<ellipse cx="705" cy="311" rx="10" ry="3.5" fill="none" stroke="#333" stroke-width="0.9"/>
<ellipse cx="705" cy="311.5" rx="8" ry="2.5" fill="none" stroke="#333" stroke-width="0.6"/>
<path d="M715 311 L714.3 329 M695 311 L695 320" fill="none" stroke="#333" stroke-width="0.8"/>
<path d="M684 306 L700 305 M715.6 304.5 L720.1 298.7 M722.7 309.6 L726.6 307.7 M715.6 304.5 L722.7 309.6 L719.5 318.6 L716.3 327.7 M722.7 309.6 L718 322" fill="none" stroke="#333" stroke-width="0.8"/>
<ellipse cx="725.3" cy="340" rx="14.8" ry="9.7" transform="rotate(20 725.3 340)" fill="none" stroke="#333" stroke-width="1.0"/>
<ellipse cx="725.3" cy="340" rx="12.8" ry="8" transform="rotate(20 725.3 340)" fill="none" stroke="#333" stroke-width="0.7"/>
<ellipse cx="725.9" cy="341.2" rx="8.7" ry="6.2" transform="rotate(20 725.9 341.2)" fill="none" stroke="#333" stroke-width="1.1"/>
<path d="M710.5 347 Q718 358 737.5 357.3 L740 350" fill="none" stroke="#333" stroke-width="0.8"/>
<path d="M738.8 349.6 L745.2 358.6 L750.4 361.2 L764.6 358.6 M741 353 L747 360" fill="none" stroke="#333" stroke-width="0.8"/>
<path d="M705.3 343.1 L710.5 347 M704 349.6 L707.9 363.7 L718.8 362.4 M706 346 L712 362 M709 346 L716 362" fill="none" stroke="#333" stroke-width="0.7"/>
<path d="M707.8 374.1 L773.7 369.2 M707.8 377 L743.9 372.7" fill="none" stroke="#333" stroke-width="0.8"/>
<path d="M766.6 370.6 L741.1 454.2 M773.7 372 L746.1 451.4" fill="none" stroke="#333" stroke-width="0.8"/>
<path d="M745.4 372.7 L752.4 403.2 L719.8 441.5 M708.5 396.1 L728.3 376.3 M708.5 400.4 L732.6 376.3" fill="none" stroke="#333" stroke-width="0.8"/>
<ellipse cx="735.4" cy="380.5" rx="6.5" ry="4.5" transform="rotate(-20 735.4 380.5)" fill="none" stroke="#333" stroke-width="0.9"/>
<ellipse cx="735.4" cy="380.5" rx="4.2" ry="2.8" transform="rotate(-20 735.4 380.5)" fill="none" stroke="#333" stroke-width="0.7"/>
<ellipse cx="711.3" cy="442.9" rx="6.5" ry="4.5" transform="rotate(-20 711.3 442.9)" fill="none" stroke="#333" stroke-width="0.9"/>
<ellipse cx="711.3" cy="442.9" rx="4.2" ry="2.8" transform="rotate(-20 711.3 442.9)" fill="none" stroke="#333" stroke-width="0.7"/>
<path d="M707 413.1 Q722 396 742.5 393.3 M704.3 421.6 Q730 404 745.4 400.4 M702.8 430.1 Q736 414 749.6 408.9" fill="none" stroke="#444" stroke-width="1.1"/>
<ellipse cx="726.9" cy="391.1" rx="1.6" ry="1.6" fill="none" stroke="#333" stroke-width="1.1"/>
<path d="M723 395 Q728 398 732 396" fill="none" stroke="#333" stroke-width="0.7"/>
<path d="M741 398 L744 410 L742 412 L740 402 Z" fill="none" stroke="#333" stroke-width="0.7"/>
<path d="M719.8 442.9 L742.5 441.5 Q746 444 742.5 447 L720.5 447.1" fill="none" stroke="#333" stroke-width="0.8"/>
<path d="M657.8 479.9 L685.7 477.3 M716.6 474.2 L749.6 470.1 Q756 466 756.8 458.2 L757.8 450" fill="none" stroke="#333" stroke-width="0.8"/>
<path d="M740.3 450 L742 456 L757.8 450" fill="none" stroke="#333" stroke-width="0.7"/>
<path d="M674.51 295.74 L676.86 297.35 L679.18 299.25 L681.46 301.44 L683.69 303.9 L685.87 306.62 L687.99 309.61 L690.04 312.84 L692.01 316.3 L693.91 320 L695.71 323.9 L697.42 328 L699.03 332.29 L700.53 336.75 L701.92 341.36 L703.2 346.11 L704.35 350.98 L705.39 355.96 L706.29 361.03 L707.06 366.17 L707.7 371.36 L708.2 376.59 L708.57 381.84 L708.8 387.09 L708.89 392.32 L708.83 397.52 L708.64 402.66 L708.31 407.73 L707.84 412.72 L707.24 417.6 L706.5 422.36 L705.63 426.98 L704.63 431.44 L703.51 435.74 L702.26 439.86 L700.9 443.77 L699.43 447.48 L697.85 450.96 L696.16 454.2 L694.38 457.2 L692.51 459.95" fill="none" stroke="#333" stroke-width="0.9"/>
<path d="M657 291 C640 293 624 310 615.5 340 Q606 344 601.5 357 Q599.5 366 602 373 Q605 382 613.6 385.1 C615 410 626 436 641 449.6 Q640.5 466 646 474 Q653 481 661 479 Q666 477 668 472 C684 460 695 425 696 385 C696 335 680 293 657 291 Z" fill="none" stroke="#333" stroke-width="0.9"/>
<ellipse cx="610.5" cy="363.5" rx="8.6" ry="15.5" transform="rotate(-4 610.5 363.5)" fill="none" stroke="#333" stroke-width="0.9"/>
<ellipse cx="610.7" cy="363.5" rx="7.4" ry="14.2" transform="rotate(-4 610.7 363.5)" fill="none" stroke="#333" stroke-width="0.7"/>
<ellipse cx="653.7" cy="460.4" rx="9.3" ry="16" transform="rotate(-4 653.7 460.4)" fill="none" stroke="#333" stroke-width="0.9"/>
<ellipse cx="653.9" cy="460.4" rx="8.1" ry="14.7" transform="rotate(-4 653.9 460.4)" fill="none" stroke="#333" stroke-width="0.7"/>
<path d="M664 460.3 L680.5 459.8 L683 457.5" fill="none" stroke="#333" stroke-width="0.8"/>
<ellipse cx="639.1" cy="303.2" rx="2.6" ry="4.4" transform="rotate(-4 639.1 303.2)" fill="none" stroke="#333" stroke-width="0.9"/>
<ellipse cx="668" cy="311.7" rx="2.6" ry="4.4" transform="rotate(-4 668 311.7)" fill="none" stroke="#333" stroke-width="0.9"/>
<ellipse cx="619" cy="337.2" rx="2.6" ry="4.4" transform="rotate(-4 619 337.2)" fill="none" stroke="#333" stroke-width="0.9"/>
<ellipse cx="688.6" cy="358" rx="2.6" ry="4.4" transform="rotate(-4 688.6 358)" fill="none" stroke="#333" stroke-width="0.9"/>
<ellipse cx="618.5" cy="394.5" rx="2.6" ry="4.4" transform="rotate(-4 618.5 394.5)" fill="none" stroke="#333" stroke-width="0.9"/>
<ellipse cx="688.9" cy="415.3" rx="2.6" ry="4.4" transform="rotate(-4 688.9 415.3)" fill="none" stroke="#333" stroke-width="0.9"/>
<ellipse cx="639.2" cy="440.5" rx="2.6" ry="4.4" transform="rotate(-4 639.2 440.5)" fill="none" stroke="#333" stroke-width="0.9"/>
<ellipse cx="668.1" cy="449.6" rx="2.6" ry="4.4" transform="rotate(-4 668.1 449.6)" fill="none" stroke="#333" stroke-width="0.9"/>
<ellipse cx="654.1" cy="376.8" rx="32" ry="65.5" transform="rotate(-4 654.1 376.8)" fill="none" stroke="#222" stroke-width="2.0"/>
<ellipse cx="654.3" cy="376.8" rx="29.8" ry="63.2" transform="rotate(-4 654.3 376.8)" fill="none" stroke="#333" stroke-width="0.8"/>
<ellipse cx="654.3" cy="376.8" rx="31" ry="64.3" transform="rotate(-4 654.3 376.8)" fill="none" stroke="#555" stroke-width="0.5"/>
<path d="M668.02 435.26 L665.48 436.66 L662.87 437.54 L660.19 437.88 L657.49 437.69 L654.77 436.96 L652.07 435.71 L649.41 433.94 L646.82 431.67 L644.3 428.92 L641.9 425.71 L639.62 422.07 L637.49 418.04 L635.53 413.65 L633.75 408.93 L632.18 403.94 L630.82 398.7 L629.68 393.28 L628.78 387.71 L628.12 382.05 L627.71 376.35 L627.56 370.65 L627.66 365 L628.01 359.46 L628.61 354.08 L629.46 348.9 L630.55 343.96 L631.87 339.31 L633.4 335 L635.13 331.06 L637.06 327.52 L639.15 324.41 L641.4 321.77 L643.78 319.61 L646.27 317.96 L648.85 316.83 L651.5 316.22 L654.19 316.15 L656.9 316.62 L659.61 317.61 L662.29 319.13" fill="none" stroke="#333" stroke-width="0.8"/>
<path d="M667.44 431.19 L665.14 432 L662.79 432.37 L660.41 432.29 L658.02 431.77 L655.64 430.8 L653.29 429.39 L650.98 427.57 L648.73 425.34 L646.57 422.71 L644.51 419.72 L642.56 416.38 L640.74 412.72 L639.07 408.78 L637.56 404.57 L636.22 400.14 L635.07 395.52 L634.1 390.75 L633.33 385.86 L632.77 380.91 L632.42 375.91 L632.28 370.92 L632.35 365.97 L632.64 361.11 L633.14 356.37 L633.84 351.8 L634.75 347.42 L635.85 343.27 L637.14 339.39 L638.6 335.8 L640.22 332.54 L641.99 329.63 L643.9 327.1 L645.93 324.96 L648.06 323.24 L650.29 321.94 L652.58 321.07 L654.92 320.65 L657.3 320.68 L659.69 321.15 L662.07 322.06" fill="none" stroke="#333" stroke-width="0.8"/>
<path d="M667.66 426.53 L665.61 426.87 L663.54 426.84 L661.45 426.44 L659.37 425.68 L657.31 424.56 L655.29 423.08 L653.31 421.27 L651.39 419.13 L649.56 416.67 L647.81 413.92 L646.16 410.9 L644.63 407.62 L643.22 404.12 L641.95 400.41 L640.83 396.53 L639.86 392.5 L639.05 388.34 L638.4 384.1 L637.93 379.8 L637.63 375.47 L637.5 371.15 L637.56 366.86 L637.79 362.64 L638.19 358.51 L638.77 354.51 L639.51 350.67 L640.42 347.01 L641.49 343.56 L642.7 340.34 L644.05 337.38 L645.53 334.7 L647.14 332.32 L648.85 330.26 L650.65 328.53 L652.54 327.14 L654.49 326.1 L656.5 325.43 L658.55 325.12 L660.62 325.18 L662.71 325.6" fill="none" stroke="#333" stroke-width="0.8"/>
<ellipse cx="664.5" cy="374.8" rx="18.5" ry="40.7" transform="rotate(-4 664.5 374.8)" fill="none" stroke="#333" stroke-width="1.0"/>
<path d="M665.73 418.35 L664.19 418.06 L662.65 417.53 L661.13 416.77 L659.62 415.77 L658.13 414.55 L656.68 413.12 L655.28 411.47 L653.93 409.63 L652.63 407.59 L651.4 405.38 L650.24 402.99 L649.16 400.46 L648.16 397.78 L647.26 394.98 L646.45 392.07 L645.74 389.06 L645.13 385.98 L644.62 382.84 L644.23 379.65 L643.95 376.44 L643.78 373.22 L643.73 370.01 L643.79 366.82 L643.96 363.69 L644.25 360.61 L644.65 357.62 L645.15 354.71 L645.77 351.93 L646.48 349.26 L647.3 346.74 L648.21 344.38 L649.21 342.18 L650.29 340.16 L651.46 338.34 L652.69 336.72 L653.99 335.3 L655.35 334.11 L656.75 333.14 L658.2 332.4 L659.69 331.9" fill="none" stroke="#333" stroke-width="0.7"/>
<path d="M666 346.5 L658.5 363.5 L681 401 M666 346.5 L670.5 350 L683 368 M658.5 363.5 L663 366.5 L684 399 M663 366.5 L677 361.5 M664 355 L676 356" fill="none" stroke="#333" stroke-width="0.8"/>
<ellipse cx="657" cy="374.2" rx="1.3" ry="1.8" fill="none" stroke="#333" stroke-width="0.8"/>
<ellipse cx="676.7" cy="409" rx="1.6" ry="1.9" fill="none" stroke="#333" stroke-width="0.8"/>
<path d="M673 336.8 L684 334 M674 340.8 L684.8 338" fill="none" stroke="#333" stroke-width="0.8"/>
<ellipse cx="684.4" cy="336" rx="1.6" ry="2.2" fill="none" stroke="#333" stroke-width="0.8"/>
<ellipse cx="673.3" cy="338.8" rx="1.6" ry="2.2" fill="none" stroke="#333" stroke-width="0.8"/>
<path d="M685.7 477.3 Q696 471 708.4 470.6 Q714 470.5 716.6 473.7 L715 481 Q700 485 685.7 481 Z" fill="none" stroke="#333" stroke-width="0.9"/>
<path d="M688 476 Q700 472 712 473" fill="none" stroke="#333" stroke-width="0.7"/>
<path d="M686 484 Q700 488 715 484 M686 482.5 L686 486 M715 482.5 L715 486" fill="none" stroke="#333" stroke-width="1.1"/>
<path d="M684.1 486.1 L716.1 486.1 L716.1 499.5 L684.1 499.5 Z M692.4 486.1 L692.4 499.5 M707.8 486.1 L707.8 499.5" fill="none" stroke="#333" stroke-width="0.8"/>
<path d="M690.3 500.5 L690.3 512.9 Q700 514.5 709.9 512.9 L709.9 500.5 M690.3 502 Q700 503.5 709.9 502" fill="none" stroke="#333" stroke-width="0.8"/>
<ellipse cx="656.3" cy="505.7" rx="9.3" ry="6.3" transform="rotate(-12 656.3 505.7)" fill="none" stroke="#333" stroke-width="0.9"/>
<path d="M647.2 507 L646.8 513 M665.3 503.5 L665.5 509.5" fill="none" stroke="#333" stroke-width="0.8"/>
<ellipse cx="653.7" cy="515" rx="12.5" ry="8" transform="rotate(-12 653.7 515)" fill="none" stroke="#333" stroke-width="0.9"/>
<ellipse cx="654" cy="514.3" rx="11" ry="6.8" transform="rotate(-12 654 514.3)" fill="none" stroke="#333" stroke-width="0.8"/>
<ellipse cx="654.5" cy="513" rx="9.3" ry="5.5" transform="rotate(-12 654.5 513)" fill="none" stroke="#333" stroke-width="0.7"/>
<ellipse cx="449.2" cy="362.4" rx="2.2" ry="3.5" fill="none" stroke="#333" stroke-width="0.9"/>
<path d="M449.2 358.9 L454.2 358.9 M449.2 365.9 L454.2 365.9" fill="none" stroke="#333" stroke-width="0.8"/>
<path d="M454.2 358.9 L454.31 358.91 L454.42 358.94 L454.53 359 L454.63 359.07 L454.74 359.17 L454.84 359.28 L454.93 359.42 L455.02 359.57 L455.11 359.74 L455.19 359.93 L455.26 360.13 L455.33 360.34 L455.39 360.57 L455.45 360.81 L455.49 361.06 L455.53 361.32 L455.56 361.58 L455.58 361.85 L455.6 362.13 L455.6 362.4 L455.6 362.67 L455.58 362.95 L455.56 363.22 L455.53 363.48 L455.49 363.74 L455.45 363.99 L455.39 364.23 L455.33 364.46 L455.26 364.67 L455.19 364.87 L455.11 365.06 L455.02 365.23 L454.93 365.38 L454.84 365.52 L454.74 365.63 L454.63 365.73 L454.53 365.8 L454.42 365.86 L454.31 365.89 L454.2 365.9" fill="none" stroke="#333" stroke-width="0.8"/>
<path d="M454.7 360.4 L462.7 360.4 Q463.7 362.4 462.7 364.4 L454.7 364.4" fill="none" stroke="#333" stroke-width="0.8"/>
<path d="M448.2 360.4 L450.2 364.4 M448.2 364.4 L450.2 360.4" fill="none" stroke="#333" stroke-width="0.6"/>
<ellipse cx="450.2" cy="398.6" rx="2.2" ry="3.5" fill="none" stroke="#333" stroke-width="0.9"/>
<path d="M450.2 395.1 L455.2 395.1 M450.2 402.1 L455.2 402.1" fill="none" stroke="#333" stroke-width="0.8"/>
<path d="M455.2 395.1 L455.31 395.11 L455.42 395.14 L455.53 395.2 L455.63 395.27 L455.74 395.37 L455.84 395.48 L455.93 395.62 L456.02 395.77 L456.11 395.94 L456.19 396.13 L456.26 396.33 L456.33 396.54 L456.39 396.77 L456.45 397.01 L456.49 397.26 L456.53 397.52 L456.56 397.78 L456.58 398.05 L456.6 398.33 L456.6 398.6 L456.6 398.87 L456.58 399.15 L456.56 399.42 L456.53 399.68 L456.49 399.94 L456.45 400.19 L456.39 400.43 L456.33 400.66 L456.26 400.87 L456.19 401.07 L456.11 401.26 L456.02 401.43 L455.93 401.58 L455.84 401.72 L455.74 401.83 L455.63 401.93 L455.53 402 L455.42 402.06 L455.31 402.09 L455.2 402.1" fill="none" stroke="#333" stroke-width="0.8"/>
<path d="M455.7 396.6 L463.7 396.6 Q464.7 398.6 463.7 400.6 L455.7 400.6" fill="none" stroke="#333" stroke-width="0.8"/>
<path d="M449.2 396.6 L451.2 400.6 M449.2 400.6 L451.2 396.6" fill="none" stroke="#333" stroke-width="0.6"/>
<ellipse cx="462.7" cy="430.2" rx="2.2" ry="3.5" fill="none" stroke="#333" stroke-width="0.9"/>
<path d="M462.7 426.7 L467.7 426.7 M462.7 433.7 L467.7 433.7" fill="none" stroke="#333" stroke-width="0.8"/>
<path d="M467.7 426.7 L467.81 426.71 L467.92 426.74 L468.03 426.8 L468.13 426.87 L468.24 426.97 L468.34 427.08 L468.43 427.22 L468.52 427.37 L468.61 427.54 L468.69 427.73 L468.76 427.93 L468.83 428.14 L468.89 428.37 L468.95 428.61 L468.99 428.86 L469.03 429.12 L469.06 429.38 L469.08 429.65 L469.1 429.93 L469.1 430.2 L469.1 430.47 L469.08 430.75 L469.06 431.02 L469.03 431.28 L468.99 431.54 L468.95 431.79 L468.89 432.03 L468.83 432.26 L468.76 432.47 L468.69 432.67 L468.61 432.86 L468.52 433.03 L468.43 433.18 L468.34 433.32 L468.24 433.43 L468.13 433.53 L468.03 433.6 L467.92 433.66 L467.81 433.69 L467.7 433.7" fill="none" stroke="#333" stroke-width="0.8"/>
<path d="M468.2 428.2 L476.2 428.2 Q477.2 430.2 476.2 432.2 L468.2 432.2" fill="none" stroke="#333" stroke-width="0.8"/>
<path d="M461.7 428.2 L463.7 432.2 M461.7 432.2 L463.7 428.2" fill="none" stroke="#333" stroke-width="0.6"/>
<ellipse cx="422.8" cy="397.4" rx="2.2" ry="3.5" fill="none" stroke="#333" stroke-width="0.9"/>
<path d="M422.8 393.9 L427.8 393.9 M422.8 400.9 L427.8 400.9" fill="none" stroke="#333" stroke-width="0.8"/>
<path d="M427.8 393.9 L427.91 393.91 L428.02 393.94 L428.13 394 L428.23 394.07 L428.34 394.17 L428.44 394.28 L428.53 394.42 L428.62 394.57 L428.71 394.74 L428.79 394.93 L428.86 395.13 L428.93 395.34 L428.99 395.57 L429.05 395.81 L429.09 396.06 L429.13 396.32 L429.16 396.58 L429.18 396.85 L429.2 397.13 L429.2 397.4 L429.2 397.67 L429.18 397.95 L429.16 398.22 L429.13 398.48 L429.09 398.74 L429.05 398.99 L428.99 399.23 L428.93 399.46 L428.86 399.67 L428.79 399.87 L428.71 400.06 L428.62 400.23 L428.53 400.38 L428.44 400.52 L428.34 400.63 L428.23 400.73 L428.13 400.8 L428.02 400.86 L427.91 400.89 L427.8 400.9" fill="none" stroke="#333" stroke-width="0.8"/>
<path d="M428.3 395.4 L436.3 395.4 Q437.3 397.4 436.3 399.4 L428.3 399.4" fill="none" stroke="#333" stroke-width="0.8"/>
<path d="M421.8 395.4 L423.8 399.4 M421.8 399.4 L423.8 395.4" fill="none" stroke="#333" stroke-width="0.6"/>
<ellipse cx="489" cy="392.9" rx="20.2" ry="40" transform="rotate(-5 489 392.9)" fill="none" stroke="#333" stroke-width="0.9"/>
<path d="M491.31 353.14 L492.44 353.02 L493.57 353.03 L494.71 353.17 L495.85 353.43 L496.99 353.81 L498.12 354.31 L499.25 354.94 L500.36 355.68 L501.46 356.54 L502.54 357.51 L503.6 358.59 L504.64 359.78 L505.64 361.07 L506.61 362.47 L507.55 363.95 L508.46 365.53 L509.32 367.19 L510.13 368.93 L510.91 370.75 L511.63 372.64 L512.31 374.59 L512.93 376.59 L513.49 378.65 L514.01 380.75 L514.46 382.89 L514.85 385.06 L515.19 387.26 L515.46 389.47 L515.67 391.7 L515.82 393.92 L515.9 396.15 L515.92 398.36 L515.88 400.56 L515.77 402.73 L515.6 404.87 L515.37 406.98 L515.07 409.04 L514.72 411.05 L514.3 413.01 L513.83 414.9" fill="none" stroke="#333" stroke-width="1.0"/>
<path d="M484.81 353.14 L491.31 353.14" fill="none" stroke="#333" stroke-width="0.9"/>
<path d="M513.83 414.9 L507.66 417.67 L505.16 422.17 L503.16 426.17" fill="none" stroke="#333" stroke-width="0.9"/>
<path d="M506.12 425.76 L505.66 426.42 L505.19 427.04 L504.71 427.64 L504.22 428.21 L503.72 428.74 L503.21 429.24 L502.69 429.72 L502.16 430.15 L501.62 430.56 L501.08 430.93 L500.52 431.27 L499.96 431.58 L499.39 431.85 L498.82 432.09 L498.24 432.29 L497.66 432.46 L497.07 432.59 L496.48 432.69 L495.88 432.76 L495.28 432.78" fill="none" stroke="#333" stroke-width="0.9"/>
<ellipse cx="485.9" cy="358.7" rx="2.5" ry="4.5" transform="rotate(-5 485.9 358.7)" fill="none" stroke="#333" stroke-width="0.8"/>
<ellipse cx="471.7" cy="393.5" rx="2.5" ry="4.5" transform="rotate(-5 471.7 393.5)" fill="none" stroke="#333" stroke-width="0.8"/>
<ellipse cx="505.6" cy="392.8" rx="2.5" ry="4.5" transform="rotate(-5 505.6 392.8)" fill="none" stroke="#333" stroke-width="0.8"/>
<ellipse cx="491.4" cy="427.6" rx="2.5" ry="4.5" transform="rotate(-5 491.4 427.6)" fill="none" stroke="#333" stroke-width="0.8"/>
<ellipse cx="488.9" cy="393.1" rx="4.2" ry="8" transform="rotate(-5 488.9 393.1)" fill="none" stroke="#333" stroke-width="1.1"/>
<ellipse cx="489.3" cy="393.1" rx="3" ry="6.5" transform="rotate(-5 489.3 393.1)" fill="none" stroke="#555" stroke-width="0.9"/>
<path d="M503 420 L506.5 423 L504 427" fill="none" stroke="#333" stroke-width="0.8"/>
<ellipse cx="549" cy="387" rx="20.6" ry="40.4" transform="rotate(-5 549 387)" fill="none" stroke="#333" stroke-width="0.9"/>
<ellipse cx="549" cy="387.4" rx="14.2" ry="28" transform="rotate(-5 549 387.4)" fill="none" stroke="#333" stroke-width="1.0"/>
<ellipse cx="549.2" cy="387.4" rx="14.8" ry="28.6" transform="rotate(-5 549.2 387.4)" fill="none" stroke="#555" stroke-width="0.5"/>
<ellipse cx="545.8" cy="352.9" rx="1.5" ry="2.3" fill="none" stroke="#333" stroke-width="0.9"/>
<ellipse cx="531.4" cy="387.4" rx="1.5" ry="2.3" fill="none" stroke="#333" stroke-width="0.9"/>
<ellipse cx="565.8" cy="387" rx="1.5" ry="2.3" fill="none" stroke="#333" stroke-width="0.9"/>
<ellipse cx="551" cy="421.8" rx="1.5" ry="2.3" fill="none" stroke="#333" stroke-width="0.9"/>
<path d="M568.5 403 L566 406 L567 409.5 L563.5 414 L565 418" fill="none" stroke="#333" stroke-width="0.9"/>
<path d="M565 418 L561 421" fill="none" stroke="#333" stroke-width="0.7"/>
<ellipse cx="588.4" cy="383.4" rx="5.9" ry="10.1" transform="rotate(-5 588.4 383.4)" fill="none" stroke="#333" stroke-width="0.8"/>
<ellipse cx="588.4" cy="383.4" rx="4.3" ry="8.5" transform="rotate(-5 588.4 383.4)" fill="none" stroke="#333" stroke-width="0.8"/>
<ellipse cx="811.6" cy="360.4" rx="5.2" ry="8.4" transform="rotate(-5 811.6 360.4)" fill="none" stroke="#333" stroke-width="0.9"/>
<ellipse cx="811.9" cy="360.4" rx="3.4" ry="6" transform="rotate(-5 811.9 360.4)" fill="none" stroke="#333" stroke-width="0.8"/>
<ellipse cx="812.2" cy="360.4" rx="2.2" ry="4.2" transform="rotate(-5 812.2 360.4)" fill="none" stroke="#333" stroke-width="0.6"/>
<path d="M811.6 352 L837.4 349.5 M814.2 368.8 L838.7 366.2" fill="none" stroke="#333" stroke-width="0.8"/>
<path d="M871.5 346.3 L892.8 344.3 M877.3 361.7 L894 359.8" fill="none" stroke="#333" stroke-width="0.8"/>
<path d="M892.8 344.03 L893.06 344.03 L893.31 344.08 L893.57 344.19 L893.82 344.33 L894.08 344.53 L894.33 344.77 L894.57 345.06 L894.81 345.39 L895.04 345.76 L895.26 346.17 L895.47 346.61 L895.67 347.09 L895.85 347.6 L896.02 348.13 L896.18 348.69 L896.32 349.27 L896.44 349.87 L896.54 350.48 L896.62 351.1 L896.69 351.72 L896.73 352.35 L896.76 352.97 L896.76 353.59 L896.75 354.2 L896.71 354.79 L896.66 355.37 L896.58 355.93 L896.49 356.46 L896.38 356.96 L896.25 357.44 L896.1 357.88 L895.94 358.28 L895.76 358.65 L895.57 358.97 L895.36 359.26 L895.15 359.49 L894.92 359.68 L894.69 359.83 L894.45 359.92 L894.2 359.97" fill="none" stroke="#333" stroke-width="0.8"/>
<path d="M834.8 340.5 L848 337 L864.4 336.6 L878.6 361.5 L870 379 L862 377 L855 373 L843.8 381.7 L834.1 367.5 L839 356 Z" fill="none" stroke="#333" stroke-width="0.9"/>
<path d="M834.8 340.5 L850 355.3 L843.8 381.7 M842.5 337.2 L851 353 M848 337 L856 352 M864.4 336.6 L868 353 L878.6 361.5 M858 337 L866 353" fill="none" stroke="#333" stroke-width="0.8"/>
<path d="M868 353 L862 377 M872 357 L865 378 M875 359 L868 379" fill="none" stroke="#333" stroke-width="0.8"/>
<path d="M836 349 L846 360 M835 360 L843 370 M838 367 L845 375" fill="none" stroke="#555" stroke-width="0.6"/>
<path d="M851 355 L868 353 L866 372 L850 375 Z" fill="none" stroke="#222" stroke-width="1.0"/>
<path d="M853 357 L865 356 L864 370 L852 371 Z" fill="none" stroke="#333" stroke-width="0.6"/>
<ellipse cx="856.5" cy="363" rx="2" ry="1.5" transform="rotate(-20 856.5 363)" fill="none" stroke="#222" stroke-width="1.3"/>
<path d="M871.5 399.7 L895.4 397.8 L898.6 403.6 L895.4 413.9 L869.6 421 L865.7 415.2 Z" fill="none" stroke="#333" stroke-width="0.9"/>
<path d="M872.8 402.3 L897.3 401 L893.4 417.8 L870.2 420.3 Z M865.7 415.2 L871.5 399.7" fill="none" stroke="#333" stroke-width="0.9"/>
<path d="M877.3 408.7 L892.1 407.5 L888.9 416.5 L874.7 417.1 Z" fill="none" stroke="#333" stroke-width="1.0"/>
<path d="M879 410.5 L890 409.5 L887.5 415 L876.5 415.5 Z" fill="none" stroke="#333" stroke-width="0.6"/>
<ellipse cx="926" cy="349.2" rx="21" ry="40.5" transform="rotate(-5 926 349.2)" fill="none" stroke="#333" stroke-width="0.9"/>
<ellipse cx="925.5" cy="350" rx="14.5" ry="28.5" transform="rotate(-5 925.5 350)" fill="none" stroke="#333" stroke-width="1.0"/>
<ellipse cx="923" cy="349.7" rx="5" ry="9" transform="rotate(-5 923 349.7)" fill="none" stroke="#333" stroke-width="0.9"/>
<ellipse cx="923.3" cy="349.7" rx="3.6" ry="7.2" transform="rotate(-5 923.3 349.7)" fill="none" stroke="#333" stroke-width="0.7"/>
<ellipse cx="922" cy="313.5" rx="1.4" ry="2" fill="none" stroke="#333" stroke-width="0.9"/>
<ellipse cx="907.5" cy="349" rx="1.4" ry="2" fill="none" stroke="#333" stroke-width="0.9"/>
<ellipse cx="943.5" cy="348" rx="1.4" ry="2" fill="none" stroke="#333" stroke-width="0.9"/>
<ellipse cx="928" cy="384" rx="1.4" ry="2" fill="none" stroke="#333" stroke-width="0.9"/>
<path d="M942 375 L938 379 L939 384 L934 385" fill="none" stroke="#333" stroke-width="0.8"/>
<ellipse cx="974.5" cy="344" rx="20.5" ry="40.4" transform="rotate(-5 974.5 344)" fill="none" stroke="#333" stroke-width="0.9"/>
<path d="M977.89 303.71 L979.24 303.8 L980.59 304.06 L981.95 304.49 L983.3 305.09 L984.63 305.85 L985.95 306.78 L987.25 307.87 L988.52 309.11 L989.75 310.5 L990.94 312.04 L992.09 313.71 L993.19 315.51 L994.23 317.44 L995.22 319.48 L996.14 321.62 L997 323.86 L997.78 326.18 L998.49 328.58 L999.13 331.05 L999.68 333.57 L1000.15 336.14 L1000.54 338.74 L1000.84 341.37 L1001.06 344 L1001.18 346.63 L1001.22 349.26 L1001.17 351.86 L1001.03 354.43 L1000.81 356.95 L1000.49 359.42 L1000.09 361.82 L999.61 364.14 L999.04 366.38 L998.4 368.52 L997.68 370.56 L996.88 372.49 L996.02 374.29 L995.09 375.96 L994.09 377.5 L993.04 378.89 L991.94 380.13 L990.78 381.22 L989.58 382.15 L988.34 382.91 L987.07 383.51 L985.77 383.94 L984.45 384.2 L983.11 384.29" fill="none" stroke="#333" stroke-width="1.0"/>
<path d="M971.89 303.71 L977.89 303.71" fill="none" stroke="#333" stroke-width="1.0"/>
<path d="M977.11 384.29 L983.11 384.29" fill="none" stroke="#333" stroke-width="1.0"/>
<ellipse cx="967.5" cy="345.2" rx="10.4" ry="14" transform="rotate(-5 967.5 345.2)" fill="none" stroke="#333" stroke-width="1.0"/>
<ellipse cx="968" cy="345.5" rx="8.5" ry="12" transform="rotate(-5 968 345.5)" fill="none" stroke="#333" stroke-width="0.8"/>
<ellipse cx="966.5" cy="345.2" rx="5.5" ry="9.5" transform="rotate(-5 966.5 345.2)" fill="none" stroke="#333" stroke-width="1.1"/>
<ellipse cx="966" cy="345.2" rx="3.8" ry="7" transform="rotate(-5 966 345.2)" fill="none" stroke="#333" stroke-width="0.8"/>
<path d="M967.5 331.2 L978 331 M967.5 359.2 L978 359" fill="none" stroke="#333" stroke-width="0.8"/>
<path d="M976.78 331.05 L977.25 331.06 L977.73 331.14 L978.21 331.32 L978.69 331.57 L979.16 331.91 L979.63 332.34 L980.08 332.84 L980.53 333.41 L980.95 334.06 L981.36 334.77 L981.75 335.54 L982.12 336.38 L982.46 337.27 L982.77 338.2 L983.06 339.18 L983.31 340.19 L983.53 341.24 L983.71 342.3 L983.86 343.38 L983.98 344.48 L984.05 345.57 L984.09 346.67 L984.1 347.75 L984.06 348.81 L983.99 349.85 L983.88 350.87 L983.73 351.84 L983.55 352.77 L983.34 353.66 L983.09 354.49 L982.81 355.27 L982.5 355.98 L982.16 356.62 L981.8 357.19 L981.41 357.68 L981.01 358.1 L980.58 358.44 L980.14 358.69 L979.69 358.86 L979.22 358.95" fill="none" stroke="#333" stroke-width="0.8"/>
<ellipse cx="971.5" cy="308" rx="1.6" ry="2.2" fill="none" stroke="#333" stroke-width="0.8"/>
<ellipse cx="957.5" cy="345" rx="1.6" ry="2.2" fill="none" stroke="#333" stroke-width="0.8"/>
<ellipse cx="991.5" cy="344" rx="1.6" ry="2.2" fill="none" stroke="#333" stroke-width="0.8"/>
<ellipse cx="977" cy="379" rx="1.6" ry="2.2" fill="none" stroke="#333" stroke-width="0.8"/>
<path d="M992 367 L988 372 L991 377 L996 374 M985 372 L991 377" fill="none" stroke="#333" stroke-width="0.8"/>
<ellipse cx="1018" cy="304" rx="2" ry="3.5" fill="none" stroke="#333" stroke-width="0.9"/>
<path d="M1018 300.5 L1012.5 300.5 M1018 307.5 L1012.5 307.5" fill="none" stroke="#333" stroke-width="0.8"/>
<path d="M1012.5 307.5 L1012.39 307.49 L1012.28 307.46 L1012.17 307.4 L1012.07 307.33 L1011.96 307.23 L1011.86 307.12 L1011.77 306.98 L1011.68 306.83 L1011.59 306.66 L1011.51 306.47 L1011.44 306.27 L1011.37 306.06 L1011.31 305.83 L1011.25 305.59 L1011.21 305.34 L1011.17 305.08 L1011.14 304.82 L1011.12 304.55 L1011.1 304.27 L1011.1 304 L1011.1 303.73 L1011.12 303.45 L1011.14 303.18 L1011.17 302.92 L1011.21 302.66 L1011.25 302.41 L1011.31 302.17 L1011.37 301.94 L1011.44 301.73 L1011.51 301.53 L1011.59 301.34 L1011.68 301.17 L1011.77 301.02 L1011.86 300.88 L1011.96 300.77 L1012.07 300.67 L1012.17 300.6 L1012.28 300.54 L1012.39 300.51 L1012.5 300.5" fill="none" stroke="#333" stroke-width="0.8"/>
<path d="M1012 302 L1003 302 Q1002 304 1003 306 L1012 306" fill="none" stroke="#333" stroke-width="0.8"/>
<ellipse cx="1017" cy="337" rx="2" ry="3.5" fill="none" stroke="#333" stroke-width="0.9"/>
<path d="M1017 333.5 L1011.5 333.5 M1017 340.5 L1011.5 340.5" fill="none" stroke="#333" stroke-width="0.8"/>
<path d="M1011.5 340.5 L1011.39 340.49 L1011.28 340.46 L1011.17 340.4 L1011.07 340.33 L1010.96 340.23 L1010.86 340.12 L1010.77 339.98 L1010.68 339.83 L1010.59 339.66 L1010.51 339.47 L1010.44 339.27 L1010.37 339.06 L1010.31 338.83 L1010.25 338.59 L1010.21 338.34 L1010.17 338.08 L1010.14 337.82 L1010.12 337.55 L1010.1 337.27 L1010.1 337 L1010.1 336.73 L1010.12 336.45 L1010.14 336.18 L1010.17 335.92 L1010.21 335.66 L1010.25 335.41 L1010.31 335.17 L1010.37 334.94 L1010.44 334.73 L1010.51 334.53 L1010.59 334.34 L1010.68 334.17 L1010.77 334.02 L1010.86 333.88 L1010.96 333.77 L1011.07 333.67 L1011.17 333.6 L1011.28 333.54 L1011.39 333.51 L1011.5 333.5" fill="none" stroke="#333" stroke-width="0.8"/>
<path d="M1011 335 L1002 335 Q1001 337 1002 339 L1011 339" fill="none" stroke="#333" stroke-width="0.8"/>
<ellipse cx="1039" cy="339.4" rx="2" ry="3.5" fill="none" stroke="#333" stroke-width="0.9"/>
<path d="M1039 335.9 L1033.5 335.9 M1039 342.9 L1033.5 342.9" fill="none" stroke="#333" stroke-width="0.8"/>
<path d="M1033.5 342.9 L1033.39 342.89 L1033.28 342.86 L1033.17 342.8 L1033.07 342.73 L1032.96 342.63 L1032.86 342.52 L1032.77 342.38 L1032.68 342.23 L1032.59 342.06 L1032.51 341.87 L1032.44 341.67 L1032.37 341.46 L1032.31 341.23 L1032.25 340.99 L1032.21 340.74 L1032.17 340.48 L1032.14 340.22 L1032.12 339.95 L1032.1 339.67 L1032.1 339.4 L1032.1 339.13 L1032.12 338.85 L1032.14 338.58 L1032.17 338.32 L1032.21 338.06 L1032.25 337.81 L1032.31 337.57 L1032.37 337.34 L1032.44 337.13 L1032.51 336.93 L1032.59 336.74 L1032.68 336.57 L1032.77 336.42 L1032.86 336.28 L1032.96 336.17 L1033.07 336.07 L1033.17 336 L1033.28 335.94 L1033.39 335.91 L1033.5 335.9" fill="none" stroke="#333" stroke-width="0.8"/>
<path d="M1033 337.4 L1024 337.4 Q1023 339.4 1024 341.4 L1033 341.4" fill="none" stroke="#333" stroke-width="0.8"/>
<ellipse cx="1024" cy="373.5" rx="2" ry="3.5" fill="none" stroke="#333" stroke-width="0.9"/>
<path d="M1024 370 L1018.5 370 M1024 377 L1018.5 377" fill="none" stroke="#333" stroke-width="0.8"/>
<path d="M1018.5 377 L1018.39 376.99 L1018.28 376.96 L1018.17 376.9 L1018.07 376.83 L1017.96 376.73 L1017.86 376.62 L1017.77 376.48 L1017.68 376.33 L1017.59 376.16 L1017.51 375.97 L1017.44 375.77 L1017.37 375.56 L1017.31 375.33 L1017.25 375.09 L1017.21 374.84 L1017.17 374.58 L1017.14 374.32 L1017.12 374.05 L1017.1 373.77 L1017.1 373.5 L1017.1 373.23 L1017.12 372.95 L1017.14 372.68 L1017.17 372.42 L1017.21 372.16 L1017.25 371.91 L1017.31 371.67 L1017.37 371.44 L1017.44 371.23 L1017.51 371.03 L1017.59 370.84 L1017.68 370.67 L1017.77 370.52 L1017.86 370.38 L1017.96 370.27 L1018.07 370.17 L1018.17 370.1 L1018.28 370.04 L1018.39 370.01 L1018.5 370" fill="none" stroke="#333" stroke-width="0.8"/>
<path d="M1018 371.5 L1009 371.5 Q1008 373.5 1009 375.5 L1018 375.5" fill="none" stroke="#333" stroke-width="0.8"/>
<ellipse cx="1036" cy="339.4" rx="2" ry="3.5" fill="none" stroke="#333" stroke-width="0.9"/>
<ellipse cx="768.9" cy="491.1" rx="25.5" ry="15.5" transform="rotate(-28 768.9 491.1)" fill="none" stroke="#333" stroke-width="1.0"/>
<ellipse cx="768.9" cy="491.1" rx="23.5" ry="13.6" transform="rotate(-28 768.9 491.1)" fill="none" stroke="#333" stroke-width="0.8"/>
<ellipse cx="774.2" cy="498.9" rx="25.5" ry="15.5" transform="rotate(-28 774.2 498.9)" fill="none" stroke="#333" stroke-width="1.0"/>
<ellipse cx="774.2" cy="498.9" rx="23.5" ry="13.6" transform="rotate(-28 774.2 498.9)" fill="none" stroke="#333" stroke-width="0.8"/>
<ellipse cx="778.5" cy="507.6" rx="25.5" ry="15.5" transform="rotate(-28 778.5 507.6)" fill="none" stroke="#333" stroke-width="1.0"/>
<ellipse cx="778.5" cy="507.6" rx="23.5" ry="13.6" transform="rotate(-28 778.5 507.6)" fill="none" stroke="#333" stroke-width="0.8"/>
<ellipse cx="805.3" cy="553.1" rx="27" ry="18.5" transform="rotate(-30 805.3 553.1)" fill="none" stroke="#333" stroke-width="0.9"/>
<path d="M772.88 551.58 L771.94 550.51 L771.12 549.35 L770.45 548.11 L769.91 546.79 L769.51 545.41 L769.26 543.98 L769.16 542.49 L769.2 540.96 L769.39 539.41 L769.72 537.82 L770.19 536.23 L770.81 534.63 L771.56 533.04 L772.45 531.46 L773.46 529.9 L774.6 528.38 L775.85 526.89 L777.2 525.46 L778.66 524.09 L780.21 522.78 L781.84 521.55 L783.54 520.4 L785.31 519.33 L787.12 518.36 L788.98 517.49 L790.87 516.73 L792.78 516.07 L794.7 515.53 L796.62 515.11 L798.52 514.8 L800.4 514.61 L802.24 514.55 L804.04 514.61 L805.78 514.79 L807.45 515.09 L809.05 515.51 L810.56 516.04 L811.98 516.69 L813.29 517.45 L814.49 518.31" fill="none" stroke="#333" stroke-width="0.9"/>
<path d="M780.5 562 L770.8 541.5 M830.5 543.3 L828.2 538.6" fill="none" stroke="#333" stroke-width="0.8"/>
<path d="M781.68 565.9 L780.78 564.75 L780.01 563.52 L779.39 562.2 L778.92 560.81 L778.6 559.36 L778.43 557.85 L778.42 556.29 L778.56 554.7 L778.86 553.08 L779.31 551.44 L779.91 549.79 L780.65 548.15 L781.54 546.52 L782.56 544.92 L783.71 543.35 L784.99 541.82 L786.37 540.34 L787.87 538.93 L789.46 537.58 L791.14 536.31 L792.89 535.13 L794.71 534.05 L796.58 533.06 L798.5 532.18 L800.45 531.41 L802.42 530.76 L804.39 530.22 L806.36 529.82 L808.31 529.53 L810.23 529.38 L812.12 529.36 L813.94 529.46 L815.71 529.69 L817.4 530.05 L819 530.54 L820.51 531.14 L821.92 531.87 L823.21 532.71 L824.38 533.65 L825.42 534.7" fill="none" stroke="#333" stroke-width="1.4"/>
<path d="M780.93 564.7 L780.03 563.55 L779.26 562.32 L778.64 561 L778.17 559.61 L777.85 558.16 L777.68 556.65 L777.67 555.09 L777.81 553.5 L778.11 551.88 L778.56 550.24 L779.16 548.59 L779.9 546.95 L780.79 545.32 L781.81 543.72 L782.96 542.15 L784.24 540.62 L785.62 539.14 L787.12 537.73 L788.71 536.38 L790.39 535.11 L792.14 533.93 L793.96 532.85 L795.83 531.86 L797.75 530.98 L799.7 530.21 L801.67 529.56 L803.64 529.02 L805.61 528.62 L807.56 528.33 L809.48 528.18 L811.37 528.16 L813.19 528.26 L814.96 528.49 L816.65 528.85 L818.25 529.34 L819.76 529.94 L821.17 530.67 L822.46 531.51 L823.63 532.45 L824.67 533.5" fill="none" stroke="#333" stroke-width="0.7"/>
<path d="M780.33 563.74 L779.43 562.59 L778.66 561.36 L778.04 560.04 L777.57 558.65 L777.25 557.2 L777.08 555.69 L777.07 554.13 L777.21 552.54 L777.51 550.92 L777.96 549.28 L778.56 547.63 L779.3 545.99 L780.19 544.36 L781.21 542.76 L782.36 541.19 L783.64 539.66 L785.02 538.18 L786.52 536.77 L788.11 535.42 L789.79 534.15 L791.54 532.97 L793.36 531.89 L795.23 530.9 L797.15 530.02 L799.1 529.25 L801.07 528.6 L803.04 528.06 L805.01 527.66 L806.96 527.37 L808.88 527.22 L810.77 527.2 L812.59 527.3 L814.36 527.53 L816.05 527.89 L817.65 528.38 L819.16 528.98 L820.57 529.71 L821.86 530.55 L823.03 531.49 L824.07 532.54" fill="none" stroke="#333" stroke-width="0.7"/>
<path d="M778.43 560.7 L777.53 559.55 L776.76 558.32 L776.14 557 L775.67 555.61 L775.35 554.16 L775.18 552.65 L775.17 551.09 L775.31 549.5 L775.61 547.88 L776.06 546.24 L776.66 544.59 L777.4 542.95 L778.29 541.32 L779.31 539.72 L780.46 538.15 L781.74 536.62 L783.12 535.14 L784.62 533.73 L786.21 532.38 L787.89 531.11 L789.64 529.93 L791.46 528.85 L793.33 527.86 L795.25 526.98 L797.2 526.21 L799.17 525.56 L801.14 525.02 L803.11 524.62 L805.06 524.33 L806.98 524.18 L808.87 524.16 L810.69 524.26 L812.46 524.49 L814.15 524.85 L815.75 525.34 L817.26 525.94 L818.67 526.67 L819.96 527.51 L821.13 528.45 L822.17 529.5" fill="none" stroke="#333" stroke-width="1.4"/>
<path d="M777.68 559.5 L776.78 558.35 L776.01 557.12 L775.39 555.8 L774.92 554.41 L774.6 552.96 L774.43 551.45 L774.42 549.89 L774.56 548.3 L774.86 546.68 L775.31 545.04 L775.91 543.39 L776.65 541.75 L777.54 540.12 L778.56 538.52 L779.71 536.95 L780.99 535.42 L782.37 533.94 L783.87 532.53 L785.46 531.18 L787.14 529.91 L788.89 528.73 L790.71 527.65 L792.58 526.66 L794.5 525.78 L796.45 525.01 L798.42 524.36 L800.39 523.82 L802.36 523.42 L804.31 523.13 L806.23 522.98 L808.12 522.96 L809.94 523.06 L811.71 523.29 L813.4 523.65 L815 524.14 L816.51 524.74 L817.92 525.47 L819.21 526.31 L820.38 527.25 L821.42 528.3" fill="none" stroke="#333" stroke-width="0.7"/>
<path d="M777.08 558.54 L776.18 557.39 L775.41 556.16 L774.79 554.84 L774.32 553.45 L774 552 L773.83 550.49 L773.82 548.93 L773.96 547.34 L774.26 545.72 L774.71 544.08 L775.31 542.43 L776.05 540.79 L776.94 539.16 L777.96 537.56 L779.11 535.99 L780.39 534.46 L781.77 532.98 L783.27 531.57 L784.86 530.22 L786.54 528.95 L788.29 527.77 L790.11 526.69 L791.98 525.7 L793.9 524.82 L795.85 524.05 L797.82 523.4 L799.79 522.86 L801.76 522.46 L803.71 522.17 L805.63 522.02 L807.52 522 L809.34 522.1 L811.11 522.33 L812.8 522.69 L814.4 523.18 L815.91 523.78 L817.32 524.51 L818.61 525.35 L819.78 526.29 L820.82 527.34" fill="none" stroke="#333" stroke-width="0.7"/>
<path d="M775.18 555.5 L774.28 554.35 L773.51 553.12 L772.89 551.8 L772.42 550.41 L772.1 548.96 L771.93 547.45 L771.92 545.89 L772.06 544.3 L772.36 542.68 L772.81 541.04 L773.41 539.39 L774.15 537.75 L775.04 536.12 L776.06 534.52 L777.21 532.95 L778.49 531.42 L779.87 529.94 L781.37 528.53 L782.96 527.18 L784.64 525.91 L786.39 524.73 L788.21 523.65 L790.08 522.66 L792 521.78 L793.95 521.01 L795.92 520.36 L797.89 519.82 L799.86 519.42 L801.81 519.13 L803.73 518.98 L805.62 518.96 L807.44 519.06 L809.21 519.29 L810.9 519.65 L812.5 520.14 L814.01 520.74 L815.42 521.47 L816.71 522.31 L817.88 523.25 L818.92 524.3" fill="none" stroke="#333" stroke-width="1.4"/>
<path d="M774.43 554.3 L773.53 553.15 L772.76 551.92 L772.14 550.6 L771.67 549.21 L771.35 547.76 L771.18 546.25 L771.17 544.69 L771.31 543.1 L771.61 541.48 L772.06 539.84 L772.66 538.19 L773.4 536.55 L774.29 534.92 L775.31 533.32 L776.46 531.75 L777.74 530.22 L779.12 528.74 L780.62 527.33 L782.21 525.98 L783.89 524.71 L785.64 523.53 L787.46 522.45 L789.33 521.46 L791.25 520.58 L793.2 519.81 L795.17 519.16 L797.14 518.62 L799.11 518.22 L801.06 517.93 L802.98 517.78 L804.87 517.76 L806.69 517.86 L808.46 518.09 L810.15 518.45 L811.75 518.94 L813.26 519.54 L814.67 520.27 L815.96 521.11 L817.13 522.05 L818.17 523.1" fill="none" stroke="#333" stroke-width="0.7"/>
<path d="M773.18 552.3 L772.28 551.15 L771.51 549.92 L770.89 548.6 L770.42 547.21 L770.1 545.76 L769.93 544.25 L769.92 542.69 L770.06 541.1 L770.36 539.48 L770.81 537.84 L771.41 536.19 L772.15 534.55 L773.04 532.92 L774.06 531.32 L775.21 529.75 L776.49 528.22 L777.87 526.74 L779.37 525.33 L780.96 523.98 L782.64 522.71 L784.39 521.53 L786.21 520.45 L788.08 519.46 L790 518.58 L791.95 517.81 L793.92 517.16 L795.89 516.62 L797.86 516.22 L799.81 515.93 L801.73 515.78 L803.62 515.76 L805.44 515.86 L807.21 516.09 L808.9 516.45 L810.5 516.94 L812.01 517.54 L813.42 518.27 L814.71 519.11 L815.88 520.05 L816.92 521.1" fill="none" stroke="#333" stroke-width="1.2"/>
<path d="M789.67 572.8 L789.42 572.71 L789.16 572.61 L788.91 572.51 L788.67 572.4 L788.42 572.29 L788.18 572.18 L787.94 572.07 L787.7 571.95 L787.47 571.83 L787.24 571.7 L787.01 571.58 L786.79 571.44 L786.56 571.31 L786.35 571.17 L786.13 571.03 L785.92 570.89 L785.71 570.74 L785.51 570.59 L785.31 570.44 L785.11 570.29 L784.91 570.13 L784.72 569.97 L784.54 569.8 L784.35 569.64 L784.17 569.47 L783.99 569.29 L783.82 569.12 L783.65 568.94 L783.49 568.76 L783.32 568.58 L783.17 568.39 L783.01 568.2 L782.86 568.01 L782.72 567.82 L782.57 567.62 L782.43 567.42 L782.3 567.22 L782.17 567.01 L782.04 566.81 L781.92 566.6" fill="none" stroke="#222" stroke-width="1.6"/>
<path d="M790 536 L793 532 M783 545 L786 541" fill="none" stroke="#333" stroke-width="0.7"/>
<path d="M803.7 546.8 L816.8 545.4 L809.8 561.6 L795.9 564.2 Z" fill="none" stroke="#222" stroke-width="1.8"/>
<path d="M805.5 549 L813.5 548.3 L808.5 559 L799.5 560.5 Z" fill="none" stroke="#333" stroke-width="0.9"/>
<path d="M803 552 L811 550.5 M800 557 L808 555.5" fill="none" stroke="#333" stroke-width="1.0"/>
<path d="M799 552.5 L793 553.5 L792.4 557 L797.5 558.5 M815 548.5 L820.3 549 L819 553.5 L813.5 553.5" fill="none" stroke="#222" stroke-width="1.3"/>
<ellipse cx="811.4" cy="541" rx="1.8" ry="1.4" fill="none" stroke="#333" stroke-width="0.8"/>
<ellipse cx="788.8" cy="556.6" rx="1.8" ry="1.8" fill="none" stroke="#333" stroke-width="0.8"/>
<ellipse cx="799.8" cy="568.2" rx="1.8" ry="1.4" fill="none" stroke="#333" stroke-width="0.8"/>
<path d="M810 584 L816.5 571.5 Q818 569.5 821 569.5 L828 569.5 Q830.5 570 829.5 573 L823.5 584.5 Q822 586.5 819 586.5 L812 586.5 Q809.5 586 810 584 Z" fill="none" stroke="#333" stroke-width="0.9"/>
<path d="M812.8 582.5 L818.3 573 L826.8 572.5 L821.5 583.5 Z" fill="none" stroke="#333" stroke-width="0.6"/>
<path d="M812 578 Q806.5 577.5 805 581.5 Q805 586 810 585.5 M828 572.5 Q833 572 833.5 576 Q832.5 579.5 827 579" fill="none" stroke="#333" stroke-width="0.9"/>
<ellipse cx="808.7" cy="581.5" rx="1.6" ry="1.4" fill="none" stroke="#333" stroke-width="0.7"/>
<ellipse cx="830.5" cy="575.5" rx="1.6" ry="1.4" fill="none" stroke="#333" stroke-width="0.7"/>
<ellipse cx="854.6" cy="585.9" rx="6.5" ry="5" transform="rotate(-15 854.6 585.9)" fill="none" stroke="#333" stroke-width="0.8"/>
<ellipse cx="854.6" cy="585.9" rx="4.9" ry="3.4" transform="rotate(-15 854.6 585.9)" fill="none" stroke="#333" stroke-width="0.8"/>
<ellipse cx="814" cy="622.3" rx="7" ry="5.5" transform="rotate(-15 814 622.3)" fill="none" stroke="#333" stroke-width="0.8"/>
<ellipse cx="814" cy="622.3" rx="5.4" ry="3.9" transform="rotate(-15 814 622.3)" fill="none" stroke="#333" stroke-width="0.8"/>
<path d="M864 597 Q868.5 592.5 872 598 L880 622 Q882 630 877 635 L846 668 Q840.5 674.5 836 669 L833 633 Q831.5 626 836 621 Z" fill="none" stroke="#333" stroke-width="0.9"/>
<path d="M864 597 L857 602 L829 626 Q824.5 631 825 637 L828 675 Q830 681 836 679 L840.5 674.5 M829 626 L836 621" fill="none" stroke="#333" stroke-width="0.9"/>
<path d="M831 632 L833 633" fill="none" stroke="#333" stroke-width="0.7"/>
<ellipse cx="853.8" cy="637.7" rx="6.5" ry="4.8" transform="rotate(-30 853.8 637.7)" fill="none" stroke="#333" stroke-width="1.0"/>
<ellipse cx="854.1" cy="637.5" rx="5" ry="3.6" transform="rotate(-30 854.1 637.5)" fill="none" stroke="#333" stroke-width="0.7"/>
<ellipse cx="859.1" cy="624.4" rx="2" ry="1.5" fill="none" stroke="#333" stroke-width="0.8"/>
<ellipse cx="848.5" cy="651" rx="2" ry="1.5" fill="none" stroke="#333" stroke-width="0.8"/>
<ellipse cx="867.4" cy="605.8" rx="5.5" ry="4.5" transform="rotate(-30 867.4 605.8)" fill="none" stroke="#333" stroke-width="1.0"/>
<ellipse cx="867.4" cy="605.8" rx="3.5" ry="2.8" transform="rotate(-30 867.4 605.8)" fill="none" stroke="#333" stroke-width="0.8"/>
<ellipse cx="840.8" cy="668.3" rx="5.5" ry="4.5" transform="rotate(-30 840.8 668.3)" fill="none" stroke="#333" stroke-width="1.0"/>
<ellipse cx="840.8" cy="668.3" rx="3.5" ry="2.8" transform="rotate(-30 840.8 668.3)" fill="none" stroke="#333" stroke-width="0.8"/>
<ellipse cx="865.5" cy="597" rx="1.3" ry="1" fill="none" stroke="#333" stroke-width="0.7"/>
<g transform="translate(885.2,669) rotate(-28.07)">
<ellipse cx="0" cy="0" rx="4" ry="3" fill="none" stroke="#333" stroke-width="0.9"/>
<path d="M-4 0 L-4 -2 M4 0 L4 -2" fill="none" stroke="#333" stroke-width="0.8"/>
<ellipse cx="0" cy="-2.2" rx="4" ry="3" fill="none" stroke="#333" stroke-width="0.9"/>
<path d="M-1.5 -2.2 L1.5 -2.2 M0 -3.7 L0 -0.7" fill="none" stroke="#333" stroke-width="0.8"/>
<path d="M-2 -5 L-2 -12.3 L0 -15.3 L2 -12.3 L2 -5" fill="none" stroke="#333" stroke-width="0.8"/>
</g>
<g transform="translate(869.2,686.8) rotate(-27.46)">
<ellipse cx="0" cy="0" rx="4" ry="3" fill="none" stroke="#333" stroke-width="0.9"/>
<path d="M-4 0 L-4 -2 M4 0 L4 -2" fill="none" stroke="#333" stroke-width="0.8"/>
<ellipse cx="0" cy="-2.2" rx="4" ry="3" fill="none" stroke="#333" stroke-width="0.9"/>
<path d="M-1.5 -2.2 L1.5 -2.2 M0 -3.7 L0 -0.7" fill="none" stroke="#333" stroke-width="0.8"/>
<path d="M-2 -5 L-2 -11.31 L0 -14.31 L2 -11.31 L2 -5" fill="none" stroke="#333" stroke-width="0.8"/>
</g>
<ellipse cx="915.2" cy="691.4" rx="6" ry="4.5" transform="rotate(-20 915.2 691.4)" fill="none" stroke="#333" stroke-width="0.8"/>
<ellipse cx="915.2" cy="691.4" rx="4.2" ry="2.7" transform="rotate(-20 915.2 691.4)" fill="none" stroke="#333" stroke-width="0.8"/>
<ellipse cx="915.2" cy="691.4" rx="5.1" ry="3.6" transform="rotate(-20 915.2 691.4)" fill="none" stroke="#555" stroke-width="1.0"/>
<ellipse cx="867.1" cy="712.9" rx="6.5" ry="4.5" transform="rotate(-20 867.1 712.9)" fill="none" stroke="#333" stroke-width="0.8"/>
<ellipse cx="867.1" cy="712.9" rx="4.7" ry="2.7" transform="rotate(-20 867.1 712.9)" fill="none" stroke="#333" stroke-width="0.8"/>
<ellipse cx="867.1" cy="712.9" rx="5.6" ry="3.6" transform="rotate(-20 867.1 712.9)" fill="none" stroke="#555" stroke-width="1.0"/>
<g transform="translate(925,705.4) rotate(-28.26)">
<ellipse cx="0" cy="0" rx="4.5" ry="2.5" fill="none" stroke="#333" stroke-width="0.9"/>
<path d="M-4.5 0 L-4.5 10.8 M4.5 0 L4.5 10.8" fill="none" stroke="#333" stroke-width="0.8"/>
<path d="M-5 10.8 L-5 14.73 L5 14.73 L5 10.8 Z" fill="none" stroke="#222" stroke-width="1.0"/>
<ellipse cx="0" cy="19.64" rx="8" ry="5.5" fill="none" stroke="#333" stroke-width="0.9"/>
<path d="M-8 19.64 L-8 16.64 M8 19.64 L8 16.64" fill="none" stroke="#333" stroke-width="0.8"/>
<ellipse cx="0" cy="16.64" rx="8" ry="5" fill="none" stroke="#333" stroke-width="0.8"/>
</g>
<g transform="translate(881.2,735.2) rotate(-27.32)">
<ellipse cx="0" cy="0" rx="4.5" ry="2.5" fill="none" stroke="#333" stroke-width="0.9"/>
<path d="M-4.5 0 L-4.5 11.14 M4.5 0 L4.5 11.14" fill="none" stroke="#333" stroke-width="0.8"/>
<path d="M-5 11.14 L-5 15.2 L5 15.2 L5 11.14 Z" fill="none" stroke="#222" stroke-width="1.0"/>
<ellipse cx="0" cy="20.26" rx="8" ry="5.5" fill="none" stroke="#333" stroke-width="0.9"/>
<path d="M-8 20.26 L-8 17.26 M8 20.26 L8 17.26" fill="none" stroke="#333" stroke-width="0.8"/>
<ellipse cx="0" cy="17.26" rx="8" ry="5" fill="none" stroke="#333" stroke-width="0.8"/>
</g>
<g transform="translate(914.5,737) rotate(-27)">
<path d="M-5 -1 Q0 -5 5 -1" fill="none" stroke="#333" stroke-width="0.9"/>
<ellipse cx="0" cy="-0.5" rx="5.5" ry="2.2" fill="none" stroke="#333" stroke-width="0.8"/>
<path d="M-10 2 L-10 9 L-8 12 L8 12 L10 9 L10 2 L8 0 L-8 0 Z M-3.5 0 L-3.5 12 M3.5 0 L3.5 12" fill="none" stroke="#333" stroke-width="0.8"/>
<path d="M-7.5 12 L-8 27 M7.5 12 L8 27" fill="none" stroke="#333" stroke-width="0.8"/>
<ellipse cx="0" cy="27" rx="8" ry="4" fill="none" stroke="#333" stroke-width="0.9"/>
</g>
</svg></body></html>
